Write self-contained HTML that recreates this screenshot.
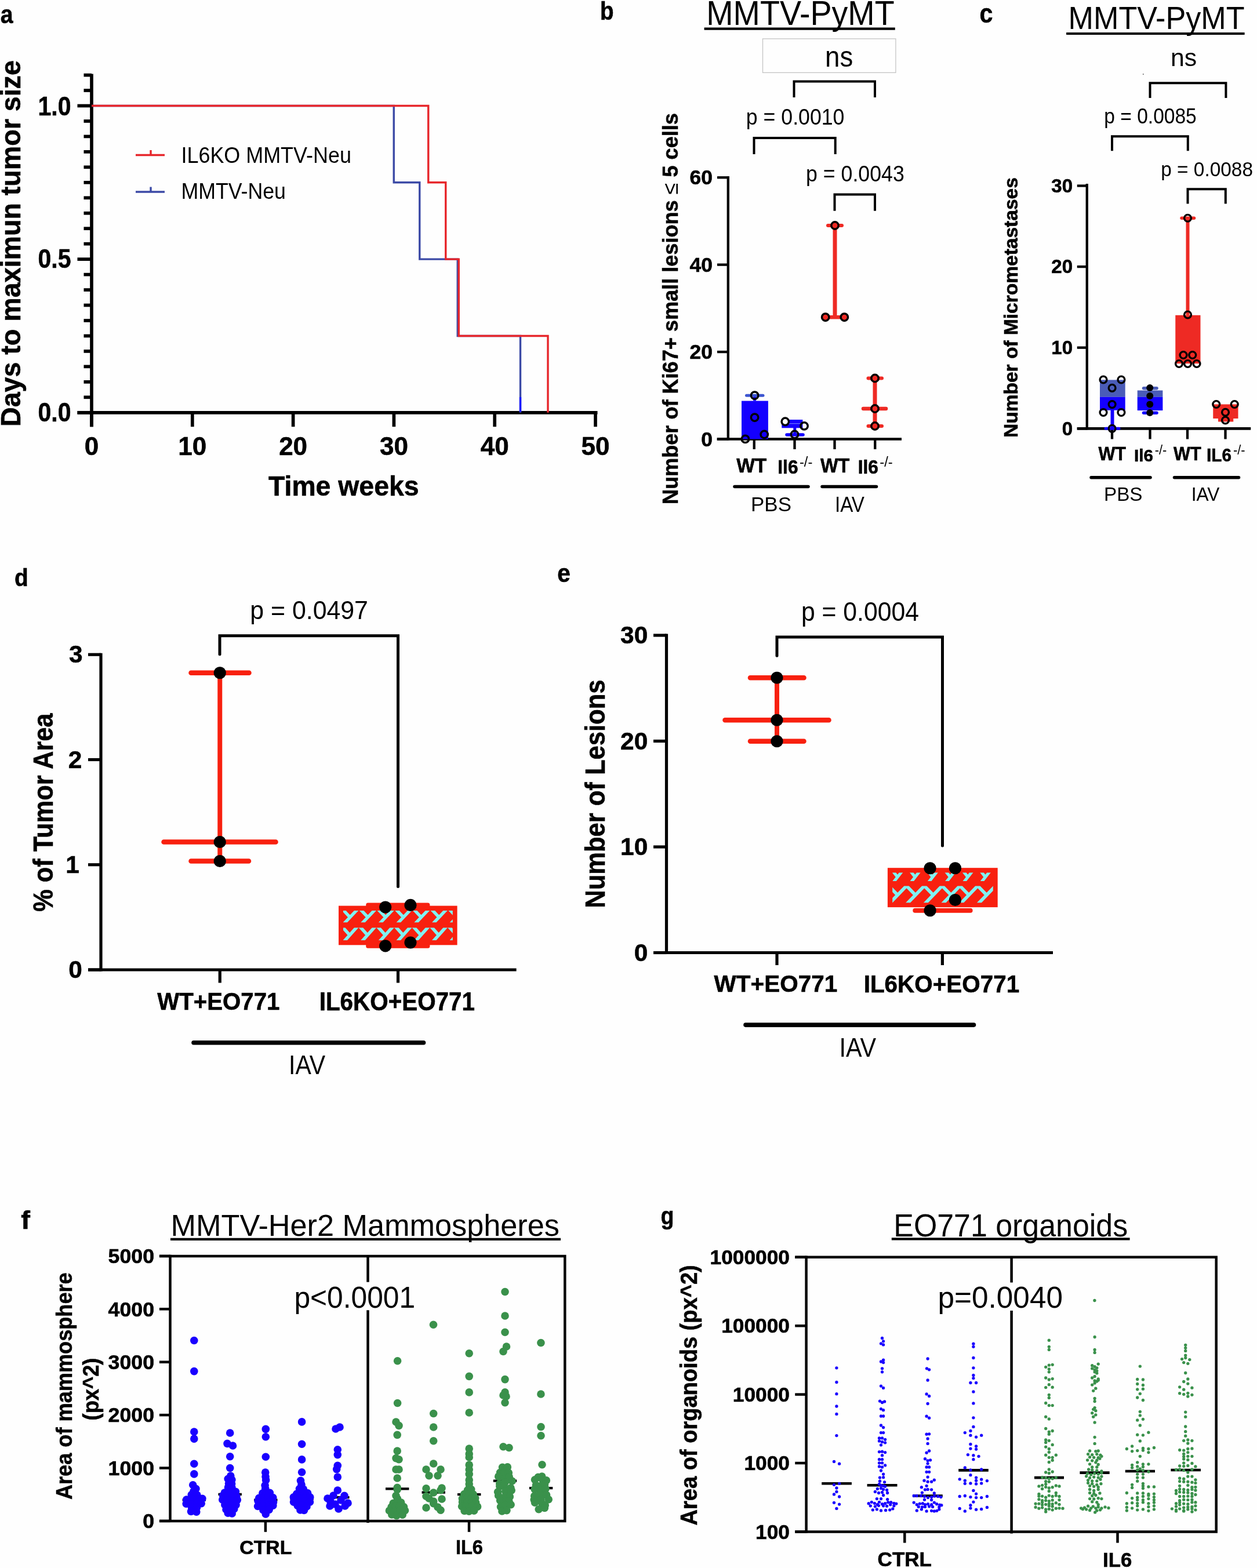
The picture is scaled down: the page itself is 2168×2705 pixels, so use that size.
<!DOCTYPE html>
<html><head><meta charset="utf-8"><style>
html,body{margin:0;padding:0;background:#fff;}
svg{display:block;}
text{font-family:"Liberation Sans",Arial,sans-serif;}
</style></head><body>
<svg width="2168" height="2705" viewBox="0 0 2168 2705">
<rect x="0" y="0" width="2168" height="2705" fill="#fefefe"/>
<text transform="translate(0.80,40.00) scale(0.8723,1)" font-size="45.00" font-weight="700" fill="#000" stroke="#000" stroke-width="0.6">a</text>
<line x1="158.00" y1="127.50" x2="158.00" y2="736.20" stroke="#000" stroke-width="5.7" stroke-linecap="butt"/>
<line x1="133.50" y1="711.80" x2="1030.50" y2="711.80" stroke="#000" stroke-width="5.7" stroke-linecap="butt"/>
<line x1="133.50" y1="711.80" x2="158.00" y2="711.80" stroke="#000" stroke-width="5.7" stroke-linecap="butt"/>
<line x1="144.50" y1="685.33" x2="158.00" y2="685.33" stroke="#000" stroke-width="5.7" stroke-linecap="butt"/>
<line x1="144.50" y1="658.87" x2="158.00" y2="658.87" stroke="#000" stroke-width="5.7" stroke-linecap="butt"/>
<line x1="144.50" y1="632.40" x2="158.00" y2="632.40" stroke="#000" stroke-width="5.7" stroke-linecap="butt"/>
<line x1="144.50" y1="605.94" x2="158.00" y2="605.94" stroke="#000" stroke-width="5.7" stroke-linecap="butt"/>
<line x1="144.50" y1="579.47" x2="158.00" y2="579.47" stroke="#000" stroke-width="5.7" stroke-linecap="butt"/>
<line x1="144.50" y1="553.01" x2="158.00" y2="553.01" stroke="#000" stroke-width="5.7" stroke-linecap="butt"/>
<line x1="144.50" y1="526.54" x2="158.00" y2="526.54" stroke="#000" stroke-width="5.7" stroke-linecap="butt"/>
<line x1="144.50" y1="500.08" x2="158.00" y2="500.08" stroke="#000" stroke-width="5.7" stroke-linecap="butt"/>
<line x1="144.50" y1="473.62" x2="158.00" y2="473.62" stroke="#000" stroke-width="5.7" stroke-linecap="butt"/>
<line x1="133.50" y1="447.15" x2="158.00" y2="447.15" stroke="#000" stroke-width="5.7" stroke-linecap="butt"/>
<line x1="144.50" y1="420.68" x2="158.00" y2="420.68" stroke="#000" stroke-width="5.7" stroke-linecap="butt"/>
<line x1="144.50" y1="394.22" x2="158.00" y2="394.22" stroke="#000" stroke-width="5.7" stroke-linecap="butt"/>
<line x1="144.50" y1="367.75" x2="158.00" y2="367.75" stroke="#000" stroke-width="5.7" stroke-linecap="butt"/>
<line x1="144.50" y1="341.29" x2="158.00" y2="341.29" stroke="#000" stroke-width="5.7" stroke-linecap="butt"/>
<line x1="144.50" y1="314.82" x2="158.00" y2="314.82" stroke="#000" stroke-width="5.7" stroke-linecap="butt"/>
<line x1="144.50" y1="288.36" x2="158.00" y2="288.36" stroke="#000" stroke-width="5.7" stroke-linecap="butt"/>
<line x1="144.50" y1="261.89" x2="158.00" y2="261.89" stroke="#000" stroke-width="5.7" stroke-linecap="butt"/>
<line x1="144.50" y1="235.43" x2="158.00" y2="235.43" stroke="#000" stroke-width="5.7" stroke-linecap="butt"/>
<line x1="144.50" y1="208.96" x2="158.00" y2="208.96" stroke="#000" stroke-width="5.7" stroke-linecap="butt"/>
<line x1="133.50" y1="182.50" x2="158.00" y2="182.50" stroke="#000" stroke-width="5.7" stroke-linecap="butt"/>
<line x1="144.50" y1="156.03" x2="158.00" y2="156.03" stroke="#000" stroke-width="5.7" stroke-linecap="butt"/>
<line x1="144.50" y1="129.57" x2="158.00" y2="129.57" stroke="#000" stroke-width="5.7" stroke-linecap="butt"/>
<line x1="158.00" y1="711.80" x2="158.00" y2="736.20" stroke="#000" stroke-width="5.7" stroke-linecap="butt"/>
<line x1="331.80" y1="711.80" x2="331.80" y2="736.20" stroke="#000" stroke-width="5.7" stroke-linecap="butt"/>
<line x1="505.60" y1="711.80" x2="505.60" y2="736.20" stroke="#000" stroke-width="5.7" stroke-linecap="butt"/>
<line x1="679.40" y1="711.80" x2="679.40" y2="736.20" stroke="#000" stroke-width="5.7" stroke-linecap="butt"/>
<line x1="853.20" y1="711.80" x2="853.20" y2="736.20" stroke="#000" stroke-width="5.7" stroke-linecap="butt"/>
<line x1="1027.00" y1="711.80" x2="1027.00" y2="736.20" stroke="#000" stroke-width="5.7" stroke-linecap="butt"/>
<text transform="translate(65.50,198.80) scale(0.8915,1)" font-size="46.00" font-weight="700" fill="#000" stroke="#000" stroke-width="0.6">1.0</text>
<text transform="translate(65.50,462.30) scale(0.8915,1)" font-size="46.00" font-weight="700" fill="#000" stroke="#000" stroke-width="0.6">0.5</text>
<text transform="translate(65.50,727.30) scale(0.8915,1)" font-size="46.00" font-weight="700" fill="#000" stroke="#000" stroke-width="0.6">0.0</text>
<text transform="translate(145.77,785.00) scale(1.0000,1)" font-size="44.00" font-weight="700" fill="#000" stroke="#000" stroke-width="0.6">0</text>
<text transform="translate(307.34,785.00) scale(1.0000,1)" font-size="44.00" font-weight="700" fill="#000" stroke="#000" stroke-width="0.6">10</text>
<text transform="translate(481.14,785.00) scale(1.0000,1)" font-size="44.00" font-weight="700" fill="#000" stroke="#000" stroke-width="0.6">20</text>
<text transform="translate(654.94,785.00) scale(1.0000,1)" font-size="44.00" font-weight="700" fill="#000" stroke="#000" stroke-width="0.6">30</text>
<text transform="translate(828.74,785.00) scale(1.0000,1)" font-size="44.00" font-weight="700" fill="#000" stroke="#000" stroke-width="0.6">40</text>
<text transform="translate(1002.54,785.00) scale(1.0000,1)" font-size="44.00" font-weight="700" fill="#000" stroke="#000" stroke-width="0.6">50</text>
<text transform="translate(463.00,855.00) scale(0.9766,1)" font-size="47.50" font-weight="700" fill="#000" stroke="#000" stroke-width="0.6">Time weeks</text>
<text transform="translate(35.10,736.00) rotate(-90) scale(0.9711,1)" font-size="48.00" font-weight="700" fill="#000" stroke="#000" stroke-width="0.6">Days to maximun tumor size</text>
<line x1="234.00" y1="267.50" x2="284.00" y2="267.50" stroke="#e7262b" stroke-width="3.4" stroke-linecap="butt"/>
<line x1="260.00" y1="259.00" x2="260.00" y2="267.50" stroke="#e7262b" stroke-width="3.4" stroke-linecap="butt"/>
<line x1="234.00" y1="331.00" x2="284.00" y2="331.00" stroke="#3c4aa6" stroke-width="3.4" stroke-linecap="butt"/>
<line x1="260.00" y1="322.50" x2="260.00" y2="331.00" stroke="#3c4aa6" stroke-width="3.4" stroke-linecap="butt"/>
<text transform="translate(312.50,280.50) scale(0.9332,1)" font-size="38.50" font-weight="400" fill="#000">IL6KO MMTV-Neu</text>
<text transform="translate(312.50,342.50) scale(0.9273,1)" font-size="38.50" font-weight="400" fill="#000">MMTV-Neu</text>
<polyline points="158.00,182.50 679.25,182.50 679.25,314.82 723.75,314.82 723.75,447.15 789.25,447.15 789.25,579.47 897.50,579.47 897.50,711.80" fill="none" stroke="#3c4aa6" stroke-width="3.4" stroke-linecap="butt" stroke-linejoin="miter"/>
<line x1="897.50" y1="685.00" x2="897.50" y2="710.80" stroke="#1a1aff" stroke-width="3.4" stroke-linecap="butt"/>
<polyline points="158.00,182.50 738.75,182.50 738.75,314.82 768.75,314.82 768.75,447.15 791.25,447.15 791.25,579.47 945.00,579.47 945.00,711.80" fill="none" stroke="#e7262b" stroke-width="3.4" stroke-linecap="butt" stroke-linejoin="miter"/>
<text transform="translate(1034.90,34.26) scale(0.8708,1)" font-size="44.35" font-weight="700" fill="#000" stroke="#000" stroke-width="0.6">b</text>
<text transform="translate(1218.30,42.70) scale(0.9332,1)" font-size="59.59" font-weight="400" fill="#000">MMTV-PyMT</text>
<line x1="1214.60" y1="49.60" x2="1543.75" y2="49.60" stroke="#000" stroke-width="4.2" stroke-linecap="butt"/>
<rect x="1315.50" y="66.90" width="229.40" height="58.40" fill="none" stroke="#c4c4c4" stroke-width="1.3"/>
<text transform="translate(1423.10,115.11) scale(0.9298,1)" font-size="49.09" font-weight="400" fill="#000">ns</text>
<polyline points="1369.50,168.00 1369.50,140.60 1509.00,140.60 1509.00,168.00" fill="none" stroke="#000" stroke-width="4" stroke-linecap="butt" stroke-linejoin="miter"/>
<text transform="translate(1286.80,214.80) scale(0.8994,1)" font-size="39.69" font-weight="400" fill="#000">p = 0.0010</text>
<polyline points="1300.50,266.00 1300.50,238.00 1440.70,238.00 1440.70,266.00" fill="none" stroke="#000" stroke-width="4" stroke-linecap="butt" stroke-linejoin="miter"/>
<text transform="translate(1390.10,312.91) scale(0.9058,1)" font-size="39.41" font-weight="400" fill="#000">p = 0.0043</text>
<polyline points="1439.50,363.70 1439.50,335.60 1509.00,335.60 1509.00,363.70" fill="none" stroke="#000" stroke-width="4" stroke-linecap="butt" stroke-linejoin="miter"/>
<line x1="1255.80" y1="304.00" x2="1255.80" y2="759.50" stroke="#000" stroke-width="4.3" stroke-linecap="butt"/>
<line x1="1236.60" y1="757.50" x2="1555.00" y2="757.50" stroke="#000" stroke-width="4.7" stroke-linecap="butt"/>
<line x1="1237.00" y1="757.50" x2="1255.80" y2="757.50" stroke="#000" stroke-width="4.3" stroke-linecap="butt"/>
<line x1="1237.00" y1="607.08" x2="1255.80" y2="607.08" stroke="#000" stroke-width="4.3" stroke-linecap="butt"/>
<line x1="1237.00" y1="456.66" x2="1255.80" y2="456.66" stroke="#000" stroke-width="4.3" stroke-linecap="butt"/>
<line x1="1237.00" y1="306.24" x2="1255.80" y2="306.24" stroke="#000" stroke-width="4.3" stroke-linecap="butt"/>
<text transform="translate(1189.48,318.39) scale(1.0000,1)" font-size="35.45" font-weight="700" fill="#000" stroke="#000" stroke-width="0.6">60</text>
<text transform="translate(1189.48,468.81) scale(1.0000,1)" font-size="35.45" font-weight="700" fill="#000" stroke="#000" stroke-width="0.6">40</text>
<text transform="translate(1189.48,619.23) scale(1.0000,1)" font-size="35.45" font-weight="700" fill="#000" stroke="#000" stroke-width="0.6">20</text>
<text transform="translate(1209.19,769.65) scale(1.0000,1)" font-size="35.45" font-weight="700" fill="#000" stroke="#000" stroke-width="0.6">0</text>
<line x1="1300.75" y1="757.50" x2="1300.75" y2="775.00" stroke="#000" stroke-width="4.3" stroke-linecap="butt"/>
<line x1="1370.50" y1="757.50" x2="1370.50" y2="775.00" stroke="#000" stroke-width="4.3" stroke-linecap="butt"/>
<line x1="1439.50" y1="757.50" x2="1439.50" y2="775.00" stroke="#000" stroke-width="4.3" stroke-linecap="butt"/>
<line x1="1509.25" y1="757.50" x2="1509.25" y2="775.00" stroke="#000" stroke-width="4.3" stroke-linecap="butt"/>
<rect x="1279.00" y="691.60" width="45.90" height="65.90" fill="#1400ff"/>
<line x1="1301.60" y1="691.60" x2="1301.60" y2="682.20" stroke="#1400ff" stroke-width="5" stroke-linecap="butt"/>
<line x1="1287.50" y1="682.20" x2="1316.00" y2="682.20" stroke="#3d55d0" stroke-width="5" stroke-linecap="round"/>
<circle cx="1301.60" cy="682.20" r="6.2" fill="none" stroke="#000" stroke-width="3.5"/>
<circle cx="1301.60" cy="720.20" r="6.2" fill="none" stroke="#000" stroke-width="3.5"/>
<circle cx="1318.20" cy="749.50" r="6.2" fill="none" stroke="#000" stroke-width="3.5"/>
<circle cx="1285.40" cy="757.40" r="6.2" fill="none" stroke="#000" stroke-width="3.5"/>
<rect x="1348.30" y="724.00" width="36.10" height="14.30" fill="#1400ff"/>
<line x1="1370.80" y1="738.00" x2="1370.80" y2="750.00" stroke="#1400ff" stroke-width="5" stroke-linecap="butt"/>
<line x1="1357.00" y1="749.90" x2="1385.00" y2="749.90" stroke="#1400ff" stroke-width="5.5" stroke-linecap="round"/>
<line x1="1352.00" y1="730.70" x2="1384.00" y2="730.70" stroke="#6f7cff" stroke-width="1.2" stroke-linecap="butt"/>
<circle cx="1354.30" cy="727.30" r="6.2" fill="#fff" stroke="#000" stroke-width="3.5"/>
<circle cx="1387.00" cy="734.90" r="6.2" fill="none" stroke="#000" stroke-width="3.5"/>
<circle cx="1370.50" cy="749.50" r="6.2" fill="none" stroke="#000" stroke-width="3.5"/>
<line x1="1440.00" y1="389.00" x2="1440.00" y2="547.20" stroke="#ee2a24" stroke-width="7" stroke-linecap="butt"/>
<line x1="1428.00" y1="389.00" x2="1452.00" y2="389.00" stroke="#ee2a24" stroke-width="6" stroke-linecap="round"/>
<line x1="1424.00" y1="547.20" x2="1456.00" y2="547.20" stroke="#ee2a24" stroke-width="6.5" stroke-linecap="butt"/>
<circle cx="1440.00" cy="389.00" r="6.2" fill="#ee2a24" stroke="#000" stroke-width="3.5"/>
<circle cx="1423.70" cy="547.20" r="6.2" fill="#ee2a24" stroke="#000" stroke-width="3.5"/>
<circle cx="1456.30" cy="547.20" r="6.2" fill="#ee2a24" stroke="#000" stroke-width="3.5"/>
<line x1="1509.00" y1="652.50" x2="1509.00" y2="735.00" stroke="#ee2a24" stroke-width="7" stroke-linecap="butt"/>
<line x1="1497.50" y1="652.50" x2="1521.00" y2="652.50" stroke="#ee2a24" stroke-width="6" stroke-linecap="round"/>
<line x1="1489.00" y1="705.00" x2="1528.00" y2="705.00" stroke="#ee2a24" stroke-width="6.5" stroke-linecap="round"/>
<line x1="1497.50" y1="735.00" x2="1521.00" y2="735.00" stroke="#ee2a24" stroke-width="6" stroke-linecap="round"/>
<circle cx="1509.00" cy="652.50" r="6.2" fill="#ee2a24" stroke="#000" stroke-width="3.5"/>
<circle cx="1509.00" cy="705.00" r="6.2" fill="#ee2a24" stroke="#000" stroke-width="3.5"/>
<circle cx="1509.00" cy="735.00" r="6.2" fill="#ee2a24" stroke="#000" stroke-width="3.5"/>
<text transform="translate(1270.20,814.60) scale(0.9583,1)" font-size="35.03" font-weight="700" fill="#000" stroke="#000" stroke-width="0.6">WT</text>
<text transform="translate(1341.30,817.30) scale(0.9794,1)" font-size="32.41" font-weight="700" fill="#000" stroke="#000" stroke-width="0.6">Il6</text>
<text transform="translate(1378.90,804.56) scale(0.9733,1)" font-size="24.49" font-weight="400" fill="#000">-/-</text>
<text transform="translate(1415.00,814.60) scale(0.9253,1)" font-size="35.03" font-weight="700" fill="#000" stroke="#000" stroke-width="0.6">WT</text>
<text transform="translate(1479.70,817.30) scale(0.9794,1)" font-size="32.41" font-weight="700" fill="#000" stroke="#000" stroke-width="0.6">Il6</text>
<text transform="translate(1517.30,804.56) scale(0.9733,1)" font-size="24.49" font-weight="400" fill="#000">-/-</text>
<line x1="1267.00" y1="839.50" x2="1394.00" y2="839.50" stroke="#000" stroke-width="5.5" stroke-linecap="round"/>
<line x1="1418.00" y1="839.50" x2="1511.50" y2="839.50" stroke="#000" stroke-width="5.5" stroke-linecap="round"/>
<text transform="translate(1295.00,882.15) scale(0.9907,1)" font-size="35.31" font-weight="400" fill="#000">PBS</text>
<text transform="translate(1440.00,882.50) scale(0.9126,1)" font-size="36.34" font-weight="400" fill="#000">IAV</text>
<text transform="translate(1169.00,870.00) rotate(-90) scale(0.9758,1)" font-size="37.00" font-weight="700" fill="#000" stroke="#000" stroke-width="0.6">Number of Ki67+ small lesions <tspan font-weight="400" stroke-width="0">≤</tspan> 5 cells</text>
<text transform="translate(1689.40,39.24) scale(0.9028,1)" font-size="45.62" font-weight="700" fill="#000" stroke="#000" stroke-width="0.6">c</text>
<text transform="translate(1842.60,50.30) scale(0.9486,1)" font-size="54.94" font-weight="400" fill="#000">MMTV-PyMT</text>
<line x1="1839.10" y1="58.00" x2="2146.60" y2="58.00" stroke="#000" stroke-width="4" stroke-linecap="butt"/>
<text transform="translate(2019.00,114.27) scale(0.9897,1)" font-size="43.25" font-weight="400" fill="#000">ns</text>
<circle cx="1971.80" cy="128.00" r="0.9" fill="#555"/>
<polyline points="1983.50,169.00 1983.50,143.20 2114.40,143.20 2114.40,169.00" fill="none" stroke="#000" stroke-width="4" stroke-linecap="butt" stroke-linejoin="miter"/>
<text transform="translate(1904.30,213.14) scale(0.9315,1)" font-size="36.02" font-weight="400" fill="#000">p = 0.0085</text>
<polyline points="1918.00,260.30 1918.00,235.30 2048.80,235.30 2048.80,260.30" fill="none" stroke="#000" stroke-width="4" stroke-linecap="butt" stroke-linejoin="miter"/>
<text transform="translate(2002.20,303.75) scale(0.9536,1)" font-size="35.03" font-weight="400" fill="#000">p = 0.0088</text>
<polyline points="2048.50,351.50 2048.50,326.30 2113.80,326.30 2113.80,351.50" fill="none" stroke="#000" stroke-width="4" stroke-linecap="butt" stroke-linejoin="miter"/>
<line x1="1874.75" y1="317.00" x2="1874.75" y2="741.30" stroke="#000" stroke-width="4.3" stroke-linecap="butt"/>
<line x1="1857.75" y1="739.30" x2="2157.25" y2="739.30" stroke="#000" stroke-width="4.7" stroke-linecap="butt"/>
<line x1="1857.75" y1="739.30" x2="1874.75" y2="739.30" stroke="#000" stroke-width="4.3" stroke-linecap="butt"/>
<line x1="1857.75" y1="599.70" x2="1874.75" y2="599.70" stroke="#000" stroke-width="4.3" stroke-linecap="butt"/>
<line x1="1857.75" y1="460.10" x2="1874.75" y2="460.10" stroke="#000" stroke-width="4.3" stroke-linecap="butt"/>
<line x1="1857.75" y1="320.50" x2="1874.75" y2="320.50" stroke="#000" stroke-width="4.3" stroke-linecap="butt"/>
<text transform="translate(1813.35,331.87) scale(1.0000,1)" font-size="33.05" font-weight="700" fill="#000" stroke="#000" stroke-width="0.6">30</text>
<text transform="translate(1813.35,471.47) scale(1.0000,1)" font-size="33.05" font-weight="700" fill="#000" stroke="#000" stroke-width="0.6">20</text>
<text transform="translate(1813.35,611.07) scale(1.0000,1)" font-size="33.05" font-weight="700" fill="#000" stroke="#000" stroke-width="0.6">10</text>
<text transform="translate(1831.72,750.67) scale(1.0000,1)" font-size="33.05" font-weight="700" fill="#000" stroke="#000" stroke-width="0.6">0</text>
<line x1="1918.00" y1="739.30" x2="1918.00" y2="757.50" stroke="#000" stroke-width="4.3" stroke-linecap="butt"/>
<line x1="1983.50" y1="739.30" x2="1983.50" y2="757.50" stroke="#000" stroke-width="4.3" stroke-linecap="butt"/>
<line x1="2048.00" y1="739.30" x2="2048.00" y2="757.50" stroke="#000" stroke-width="4.3" stroke-linecap="butt"/>
<line x1="2113.50" y1="739.30" x2="2113.50" y2="757.50" stroke="#000" stroke-width="4.3" stroke-linecap="butt"/>
<rect x="1897.00" y="655.40" width="43.70" height="29.40" fill="#4a5cb8"/>
<rect x="1897.00" y="684.80" width="43.70" height="22.90" fill="#1400ff"/>
<line x1="1918.50" y1="707.00" x2="1918.50" y2="739.30" stroke="#1400ff" stroke-width="6" stroke-linecap="butt"/>
<line x1="1907.00" y1="739.30" x2="1930.00" y2="739.30" stroke="#1400ff" stroke-width="5" stroke-linecap="round"/>
<circle cx="1903.00" cy="655.00" r="5.9" fill="none" stroke="#000" stroke-width="3.4"/>
<circle cx="1933.90" cy="655.00" r="5.9" fill="none" stroke="#000" stroke-width="3.4"/>
<circle cx="1918.10" cy="669.30" r="5.9" fill="none" stroke="#000" stroke-width="3.4"/>
<circle cx="1918.10" cy="697.60" r="5.9" fill="none" stroke="#000" stroke-width="3.4"/>
<circle cx="1903.00" cy="711.50" r="5.9" fill="none" stroke="#000" stroke-width="3.4"/>
<circle cx="1933.90" cy="711.50" r="5.9" fill="none" stroke="#000" stroke-width="3.4"/>
<circle cx="1918.10" cy="739.30" r="5.9" fill="none" stroke="#000" stroke-width="3.4"/>
<line x1="1972.50" y1="669.70" x2="1995.00" y2="669.70" stroke="#4a5cb8" stroke-width="5.5" stroke-linecap="round"/>
<rect x="1961.70" y="673.50" width="43.70" height="11.30" fill="#4a5cb8"/>
<rect x="1961.70" y="684.80" width="43.70" height="23.30" fill="#1400ff"/>
<line x1="1972.50" y1="712.20" x2="1995.00" y2="712.20" stroke="#1400ff" stroke-width="5.5" stroke-linecap="round"/>
<circle cx="1983.20" cy="669.00" r="6" fill="#000"/>
<circle cx="1983.20" cy="682.90" r="6" fill="#000"/>
<circle cx="1983.20" cy="697.60" r="6" fill="#000"/>
<circle cx="1983.20" cy="711.90" r="6" fill="#000"/>
<line x1="2048.50" y1="376.25" x2="2048.50" y2="543.75" stroke="#ee2a24" stroke-width="6" stroke-linecap="butt"/>
<line x1="2038.00" y1="376.25" x2="2059.50" y2="376.25" stroke="#ee2a24" stroke-width="5.5" stroke-linecap="round"/>
<rect x="2027.25" y="543.75" width="43.25" height="83.45" fill="#ee2a24"/>
<circle cx="2048.50" cy="376.25" r="5.9" fill="none" stroke="#000" stroke-width="3.4"/>
<circle cx="2048.50" cy="543.00" r="5.9" fill="none" stroke="#000" stroke-width="3.4"/>
<circle cx="2041.00" cy="612.50" r="5.9" fill="none" stroke="#000" stroke-width="3.4"/>
<circle cx="2056.75" cy="612.50" r="5.9" fill="none" stroke="#000" stroke-width="3.4"/>
<circle cx="2033.50" cy="627.50" r="5.9" fill="none" stroke="#000" stroke-width="3.4"/>
<circle cx="2048.50" cy="627.50" r="5.9" fill="none" stroke="#000" stroke-width="3.4"/>
<circle cx="2064.00" cy="627.50" r="5.9" fill="none" stroke="#000" stroke-width="3.4"/>
<rect x="2092.25" y="697.50" width="43.25" height="24.50" fill="#ee2a24"/>
<rect x="2101.00" y="715.00" width="26.25" height="12.50" fill="#ee2a24"/>
<circle cx="2097.75" cy="697.50" r="5.9" fill="none" stroke="#000" stroke-width="3.4"/>
<circle cx="2129.25" cy="697.50" r="5.9" fill="none" stroke="#000" stroke-width="3.4"/>
<circle cx="2113.50" cy="711.25" r="5.9" fill="none" stroke="#000" stroke-width="3.4"/>
<circle cx="2113.50" cy="725.00" r="5.9" fill="none" stroke="#000" stroke-width="3.4"/>
<text transform="translate(1894.40,793.60) scale(0.9278,1)" font-size="32.99" font-weight="700" fill="#000" stroke="#000" stroke-width="0.6">WT</text>
<text transform="translate(1956.10,795.90) scale(0.9765,1)" font-size="30.21" font-weight="700" fill="#000" stroke="#000" stroke-width="0.6">Il6</text>
<text transform="translate(1991.70,784.27) scale(0.9325,1)" font-size="23.40" font-weight="400" fill="#000">-/-</text>
<text transform="translate(2024.00,793.60) scale(0.9297,1)" font-size="32.99" font-weight="700" fill="#000" stroke="#000" stroke-width="0.6">WT</text>
<text transform="translate(2081.10,795.90) scale(0.9327,1)" font-size="31.83" font-weight="700" fill="#000" stroke="#000" stroke-width="0.6">IL6</text>
<text transform="translate(2126.90,784.27) scale(0.9325,1)" font-size="23.40" font-weight="400" fill="#000">-/-</text>
<line x1="1882.00" y1="823.75" x2="1984.00" y2="823.75" stroke="#000" stroke-width="5.5" stroke-linecap="round"/>
<line x1="2025.50" y1="823.75" x2="2136.50" y2="823.75" stroke="#000" stroke-width="5.5" stroke-linecap="round"/>
<text transform="translate(1904.00,863.93) scale(1.0230,1)" font-size="32.49" font-weight="400" fill="#000">PBS</text>
<text transform="translate(2054.75,864.25) scale(0.9482,1)" font-size="33.43" font-weight="400" fill="#000">IAV</text>
<text transform="translate(1754.50,755.00) rotate(-90) scale(1.0159,1)" font-size="33.00" font-weight="700" fill="#000" stroke="#000" stroke-width="0.6">Number of Micrometastases</text>
<text transform="translate(25.00,1010.82) scale(0.9142,1)" font-size="42.52" font-weight="700" fill="#000" stroke="#000" stroke-width="0.6">d</text>
<line x1="174.00" y1="1129.25" x2="174.00" y2="1673.00" stroke="#000" stroke-width="5.2" stroke-linecap="square"/>
<line x1="152.00" y1="1673.00" x2="890.60" y2="1673.00" stroke="#000" stroke-width="5.2" stroke-linecap="butt"/>
<line x1="152.00" y1="1673.00" x2="174.00" y2="1673.00" stroke="#000" stroke-width="5.2" stroke-linecap="butt"/>
<line x1="152.00" y1="1491.75" x2="174.00" y2="1491.75" stroke="#000" stroke-width="5.2" stroke-linecap="butt"/>
<line x1="152.00" y1="1310.50" x2="174.00" y2="1310.50" stroke="#000" stroke-width="5.2" stroke-linecap="butt"/>
<line x1="152.00" y1="1129.25" x2="174.00" y2="1129.25" stroke="#000" stroke-width="5.2" stroke-linecap="butt"/>
<text transform="translate(118.94,1143.33) scale(1.0000,1)" font-size="42.37" font-weight="700" fill="#000" stroke="#000" stroke-width="0.6">3</text>
<text transform="translate(117.64,1324.58) scale(1.0000,1)" font-size="42.37" font-weight="700" fill="#000" stroke="#000" stroke-width="0.6">2</text>
<text transform="translate(113.34,1505.83) scale(1.0000,1)" font-size="42.37" font-weight="700" fill="#000" stroke="#000" stroke-width="0.6">1</text>
<text transform="translate(118.24,1687.08) scale(1.0000,1)" font-size="42.37" font-weight="700" fill="#000" stroke="#000" stroke-width="0.6">0</text>
<line x1="379.25" y1="1673.00" x2="379.25" y2="1695.50" stroke="#000" stroke-width="5.2" stroke-linecap="butt"/>
<line x1="686.50" y1="1673.00" x2="686.50" y2="1695.50" stroke="#000" stroke-width="5.2" stroke-linecap="butt"/>
<polyline points="379.00,1128.75 379.00,1096.75 686.50,1096.75 686.50,1529.50" fill="none" stroke="#000" stroke-width="5" stroke-linecap="round" stroke-linejoin="miter"/>
<text transform="translate(431.25,1067.55) scale(0.9557,1)" font-size="44.84" font-weight="400" fill="#000">p = 0.0497</text>
<line x1="379.25" y1="1160.75" x2="379.25" y2="1485.50" stroke="#f8200f" stroke-width="8" stroke-linecap="butt"/>
<line x1="329.50" y1="1160.75" x2="429.50" y2="1160.75" stroke="#f8200f" stroke-width="8.5" stroke-linecap="round"/>
<line x1="282.50" y1="1452.50" x2="475.50" y2="1452.50" stroke="#f8200f" stroke-width="8.5" stroke-linecap="round"/>
<line x1="329.50" y1="1485.50" x2="429.00" y2="1485.50" stroke="#f8200f" stroke-width="8.5" stroke-linecap="round"/>
<circle cx="379.25" cy="1160.75" r="10.6" fill="#000"/>
<circle cx="379.25" cy="1452.50" r="10.6" fill="#000"/>
<circle cx="379.25" cy="1485.50" r="10.6" fill="#000"/>
<rect x="584.00" y="1562.60" width="204.60" height="67.70" fill="#f8200f"/>
<rect x="631.2" y="1557.5" width="110.2" height="78.3" rx="3.5" fill="#f8200f"/>
<clipPath id="hc1"><rect x="591.90" y="1570.70" width="188.90" height="20.90"/></clipPath>
<path clip-path="url(#hc1)" fill="#80f2f2" d="M591.30,1591.60L598.80,1591.60L618.50,1570.70L611.00,1570.70ZM600.28,1582.67L607.78,1582.67L596.50,1570.70L589.00,1570.70ZM622.00,1591.60L629.50,1591.60L649.20,1570.70L641.70,1570.70ZM630.98,1582.67L638.48,1582.67L627.20,1570.70L619.70,1570.70ZM652.70,1591.60L660.20,1591.60L679.90,1570.70L672.40,1570.70ZM661.68,1582.67L669.18,1582.67L657.90,1570.70L650.40,1570.70ZM683.40,1591.60L690.90,1591.60L710.60,1570.70L703.10,1570.70ZM692.38,1582.67L699.88,1582.67L688.60,1570.70L681.10,1570.70ZM714.10,1591.60L721.60,1591.60L741.30,1570.70L733.80,1570.70ZM723.08,1582.67L730.58,1582.67L719.30,1570.70L711.80,1570.70ZM744.80,1591.60L752.30,1591.60L772.00,1570.70L764.50,1570.70ZM753.78,1582.67L761.28,1582.67L750.00,1570.70L742.50,1570.70ZM775.50,1591.60L783.00,1591.60L802.70,1570.70L795.20,1570.70ZM784.48,1582.67L791.98,1582.67L780.70,1570.70L773.20,1570.70Z"/>
<clipPath id="hc2"><rect x="591.90" y="1600.30" width="188.90" height="21.90"/></clipPath>
<path clip-path="url(#hc2)" fill="#80f2f2" d="M591.30,1622.20L598.80,1622.20L618.50,1600.30L611.00,1600.30ZM599.69,1613.47L607.19,1613.47L595.35,1600.30L587.85,1600.30ZM622.00,1622.20L629.50,1622.20L649.20,1600.30L641.70,1600.30ZM630.39,1613.47L637.89,1613.47L626.05,1600.30L618.55,1600.30ZM652.70,1622.20L660.20,1622.20L679.90,1600.30L672.40,1600.30ZM661.09,1613.47L668.59,1613.47L656.75,1600.30L649.25,1600.30ZM683.40,1622.20L690.90,1622.20L710.60,1600.30L703.10,1600.30ZM691.79,1613.47L699.29,1613.47L687.45,1600.30L679.95,1600.30ZM714.10,1622.20L721.60,1622.20L741.30,1600.30L733.80,1600.30ZM722.49,1613.47L729.99,1613.47L718.15,1600.30L710.65,1600.30ZM744.80,1622.20L752.30,1622.20L772.00,1600.30L764.50,1600.30ZM753.19,1613.47L760.69,1613.47L748.85,1600.30L741.35,1600.30ZM775.50,1622.20L783.00,1622.20L802.70,1600.30L795.20,1600.30ZM783.89,1613.47L791.39,1613.47L779.55,1600.30L772.05,1600.30Z"/>
<circle cx="664.70" cy="1565.00" r="10.6" fill="#000"/>
<circle cx="708.00" cy="1561.40" r="10.6" fill="#000"/>
<circle cx="664.70" cy="1631.80" r="10.6" fill="#000"/>
<circle cx="708.00" cy="1626.00" r="10.6" fill="#000"/>
<text transform="translate(271.25,1742.00) scale(0.9381,1)" font-size="42.88" font-weight="700" fill="#000" stroke="#000" stroke-width="0.6">WT+EO771</text>
<text transform="translate(550.70,1742.80) scale(0.9202,1)" font-size="43.90" font-weight="700" fill="#000" stroke="#000" stroke-width="0.6">IL6KO+EO771</text>
<line x1="334.00" y1="1798.70" x2="730.50" y2="1798.70" stroke="#000" stroke-width="7.6" stroke-linecap="round"/>
<text transform="translate(498.00,1852.50) scale(0.8947,1)" font-size="45.78" font-weight="400" fill="#000">IAV</text>
<text transform="translate(90.70,1572.80) rotate(-90) scale(0.9128,1)" font-size="47.53" font-weight="700" fill="#000" stroke="#000" stroke-width="0.6">% of Tumor Area</text>
<text transform="translate(961.25,1004.05) scale(0.9052,1)" font-size="44.71" font-weight="700" fill="#000" stroke="#000" stroke-width="0.6">e</text>
<line x1="1149.50" y1="1096.00" x2="1149.50" y2="1643.50" stroke="#000" stroke-width="5.2" stroke-linecap="square"/>
<line x1="1127.50" y1="1643.50" x2="1816.00" y2="1643.50" stroke="#000" stroke-width="5.2" stroke-linecap="butt"/>
<line x1="1127.00" y1="1643.50" x2="1149.50" y2="1643.50" stroke="#000" stroke-width="5.2" stroke-linecap="butt"/>
<line x1="1127.00" y1="1461.00" x2="1149.50" y2="1461.00" stroke="#000" stroke-width="5.2" stroke-linecap="butt"/>
<line x1="1127.00" y1="1278.50" x2="1149.50" y2="1278.50" stroke="#000" stroke-width="5.2" stroke-linecap="butt"/>
<line x1="1127.00" y1="1096.00" x2="1149.50" y2="1096.00" stroke="#000" stroke-width="5.2" stroke-linecap="butt"/>
<text transform="translate(1070.08,1110.08) scale(1.0000,1)" font-size="42.37" font-weight="700" fill="#000" stroke="#000" stroke-width="0.6">30</text>
<text transform="translate(1070.08,1292.58) scale(1.0000,1)" font-size="42.37" font-weight="700" fill="#000" stroke="#000" stroke-width="0.6">20</text>
<text transform="translate(1070.08,1475.08) scale(1.0000,1)" font-size="42.37" font-weight="700" fill="#000" stroke="#000" stroke-width="0.6">10</text>
<text transform="translate(1093.64,1657.58) scale(1.0000,1)" font-size="42.37" font-weight="700" fill="#000" stroke="#000" stroke-width="0.6">0</text>
<line x1="1340.00" y1="1643.50" x2="1340.00" y2="1665.00" stroke="#000" stroke-width="5.2" stroke-linecap="butt"/>
<line x1="1625.40" y1="1643.50" x2="1625.40" y2="1665.00" stroke="#000" stroke-width="5.2" stroke-linecap="butt"/>
<polyline points="1340.00,1131.25 1340.00,1099.00 1625.50,1099.00 1625.50,1459.00" fill="none" stroke="#000" stroke-width="5" stroke-linecap="round" stroke-linejoin="miter"/>
<text transform="translate(1381.90,1070.78) scale(0.9097,1)" font-size="46.96" font-weight="400" fill="#000">p = 0.0004</text>
<line x1="1340.00" y1="1169.25" x2="1340.00" y2="1278.75" stroke="#f8200f" stroke-width="8" stroke-linecap="butt"/>
<line x1="1294.00" y1="1169.25" x2="1386.50" y2="1169.25" stroke="#f8200f" stroke-width="8.5" stroke-linecap="round"/>
<line x1="1250.50" y1="1242.25" x2="1429.50" y2="1242.25" stroke="#f8200f" stroke-width="8.5" stroke-linecap="round"/>
<line x1="1294.00" y1="1278.75" x2="1386.50" y2="1278.75" stroke="#f8200f" stroke-width="8.5" stroke-linecap="round"/>
<circle cx="1340.00" cy="1169.25" r="10.6" fill="#000"/>
<circle cx="1340.00" cy="1242.25" r="10.6" fill="#000"/>
<circle cx="1340.00" cy="1278.75" r="10.6" fill="#000"/>
<rect x="1530.90" y="1497.20" width="189.80" height="67.90" fill="#f8200f"/>
<line x1="1578.30" y1="1570.75" x2="1673.60" y2="1570.75" stroke="#f8200f" stroke-width="8" stroke-linecap="round"/>
<clipPath id="hc3"><rect x="1539.20" y="1505.20" width="173.60" height="14.90"/></clipPath>
<path clip-path="url(#hc3)" fill="#80f2f2" d="M1539.20,1520.10L1545.80,1520.10L1557.40,1505.20L1550.80,1505.20ZM1544.93,1513.34L1551.53,1513.34L1545.20,1505.20L1538.60,1505.20ZM1569.50,1520.10L1576.10,1520.10L1587.70,1505.20L1581.10,1505.20ZM1575.23,1513.34L1581.83,1513.34L1575.50,1505.20L1568.90,1505.20ZM1599.80,1520.10L1606.40,1520.10L1618.00,1505.20L1611.40,1505.20ZM1605.53,1513.34L1612.13,1513.34L1605.80,1505.20L1599.20,1505.20ZM1630.10,1520.10L1636.70,1520.10L1648.30,1505.20L1641.70,1505.20ZM1635.83,1513.34L1642.43,1513.34L1636.10,1505.20L1629.50,1505.20ZM1660.40,1520.10L1667.00,1520.10L1678.60,1505.20L1672.00,1505.20ZM1666.13,1513.34L1672.73,1513.34L1666.40,1505.20L1659.80,1505.20ZM1690.70,1520.10L1697.30,1520.10L1708.90,1505.20L1702.30,1505.20ZM1696.43,1513.34L1703.03,1513.34L1696.70,1505.20L1690.10,1505.20Z"/>
<clipPath id="hc4"><rect x="1539.20" y="1528.20" width="173.60" height="29.20"/></clipPath>
<path clip-path="url(#hc4)" fill="#80f2f2" d="M1531.20,1557.40L1539.20,1557.40L1567.50,1528.20L1559.50,1528.20ZM1544.44,1544.34L1552.44,1544.34L1536.80,1528.20L1528.80,1528.20ZM1561.90,1557.40L1569.90,1557.40L1598.20,1528.20L1590.20,1528.20ZM1575.14,1544.34L1583.14,1544.34L1567.50,1528.20L1559.50,1528.20ZM1592.60,1557.40L1600.60,1557.40L1628.90,1528.20L1620.90,1528.20ZM1605.84,1544.34L1613.84,1544.34L1598.20,1528.20L1590.20,1528.20ZM1623.30,1557.40L1631.30,1557.40L1659.60,1528.20L1651.60,1528.20ZM1636.54,1544.34L1644.54,1544.34L1628.90,1528.20L1620.90,1528.20ZM1654.00,1557.40L1662.00,1557.40L1690.30,1528.20L1682.30,1528.20ZM1667.24,1544.34L1675.24,1544.34L1659.60,1528.20L1651.60,1528.20ZM1684.70,1557.40L1692.70,1557.40L1721.00,1528.20L1713.00,1528.20ZM1697.94,1544.34L1705.94,1544.34L1690.30,1528.20L1682.30,1528.20ZM1715.40,1557.40L1723.40,1557.40L1751.70,1528.20L1743.70,1528.20ZM1728.64,1544.34L1736.64,1544.34L1721.00,1528.20L1713.00,1528.20Z"/>
<circle cx="1604.10" cy="1497.75" r="10.6" fill="#000"/>
<circle cx="1647.50" cy="1497.75" r="10.6" fill="#000"/>
<circle cx="1647.50" cy="1552.50" r="10.6" fill="#000"/>
<circle cx="1604.10" cy="1570.75" r="10.6" fill="#000"/>
<text transform="translate(1231.60,1711.40) scale(0.9811,1)" font-size="41.28" font-weight="700" fill="#000" stroke="#000" stroke-width="0.6">WT+EO771</text>
<text transform="translate(1489.70,1712.00) scale(0.9528,1)" font-size="42.44" font-weight="700" fill="#000" stroke="#000" stroke-width="0.6">IL6KO+EO771</text>
<line x1="1286.00" y1="1768.10" x2="1679.50" y2="1768.10" stroke="#000" stroke-width="7.6" stroke-linecap="round"/>
<text transform="translate(1447.60,1822.80) scale(0.9003,1)" font-size="45.93" font-weight="400" fill="#000">IAV</text>
<text transform="translate(1043.26,1566.80) rotate(-90) scale(0.8951,1)" font-size="48.64" font-weight="700" fill="#000" stroke="#000" stroke-width="0.6">Number of Lesions</text>
<text transform="translate(36.20,2120.00) scale(1.0686,1)" font-size="44.14" font-weight="700" fill="#000" stroke="#000" stroke-width="0.6">f</text>
<text transform="translate(294.60,2132.00) scale(0.9981,1)" font-size="52.33" font-weight="400" fill="#000">MMTV-Her2 Mammospheres</text>
<line x1="294.00" y1="2137.90" x2="967.00" y2="2137.90" stroke="#000" stroke-width="4.3" stroke-linecap="butt"/>
<path d="M274.9,2166.90H974.3V2623.90H274.9" fill="none" stroke="#000" stroke-width="4.5"/>
<line x1="293.50" y1="2164.70" x2="293.50" y2="2626.10" stroke="#000" stroke-width="4.5" stroke-linecap="butt"/>
<line x1="274.90" y1="2623.90" x2="293.50" y2="2623.90" stroke="#000" stroke-width="4.5" stroke-linecap="butt"/>
<line x1="274.90" y1="2532.50" x2="293.50" y2="2532.50" stroke="#000" stroke-width="4.5" stroke-linecap="butt"/>
<line x1="274.90" y1="2441.10" x2="293.50" y2="2441.10" stroke="#000" stroke-width="4.5" stroke-linecap="butt"/>
<line x1="274.90" y1="2349.70" x2="293.50" y2="2349.70" stroke="#000" stroke-width="4.5" stroke-linecap="butt"/>
<line x1="274.90" y1="2258.30" x2="293.50" y2="2258.30" stroke="#000" stroke-width="4.5" stroke-linecap="butt"/>
<line x1="274.90" y1="2166.90" x2="293.50" y2="2166.90" stroke="#000" stroke-width="4.5" stroke-linecap="butt"/>
<text transform="translate(246.23,2636.14) scale(1.0000,1)" font-size="35.73" font-weight="700" fill="#000" stroke="#000" stroke-width="0.6">0</text>
<text transform="translate(186.59,2544.74) scale(1.0000,1)" font-size="35.73" font-weight="700" fill="#000" stroke="#000" stroke-width="0.6">1000</text>
<text transform="translate(186.59,2453.34) scale(1.0000,1)" font-size="35.73" font-weight="700" fill="#000" stroke="#000" stroke-width="0.6">2000</text>
<text transform="translate(186.59,2361.94) scale(1.0000,1)" font-size="35.73" font-weight="700" fill="#000" stroke="#000" stroke-width="0.6">3000</text>
<text transform="translate(186.59,2270.54) scale(1.0000,1)" font-size="35.73" font-weight="700" fill="#000" stroke="#000" stroke-width="0.6">4000</text>
<text transform="translate(186.59,2179.14) scale(1.0000,1)" font-size="35.73" font-weight="700" fill="#000" stroke="#000" stroke-width="0.6">5000</text>
<line x1="634.50" y1="2166.90" x2="634.50" y2="2211.70" stroke="#000" stroke-width="4.5" stroke-linecap="butt"/>
<line x1="634.50" y1="2260.30" x2="634.50" y2="2626.90" stroke="#000" stroke-width="4.5" stroke-linecap="butt"/>
<line x1="457.90" y1="2623.90" x2="457.90" y2="2642.80" stroke="#000" stroke-width="4.5" stroke-linecap="butt"/>
<line x1="809.00" y1="2623.90" x2="809.00" y2="2642.80" stroke="#000" stroke-width="4.5" stroke-linecap="butt"/>
<text transform="translate(413.30,2681.07) scale(1.0128,1)" font-size="33.33" font-weight="700" fill="#000" stroke="#000" stroke-width="0.6">CTRL</text>
<text transform="translate(785.90,2681.40) scale(0.9502,1)" font-size="34.30" font-weight="700" fill="#000" stroke="#000" stroke-width="0.6">IL6</text>
<text transform="translate(507.40,2256.18) scale(0.9648,1)" font-size="51.55" font-weight="400" fill="#000">p&lt;0.0001</text>
<text transform="translate(123.80,2587.10) rotate(-90) scale(0.9318,1)" font-size="38.81" font-weight="700" fill="#000" stroke="#000" stroke-width="0.6">Area of mammosphere</text>
<text transform="translate(169.70,2450.40) rotate(-90) scale(0.9431,1)" font-size="38.45" font-weight="700" fill="#000" stroke="#000" stroke-width="0.6">(px^2)</text>
<line x1="314.60" y1="2587.70" x2="355.00" y2="2587.70" stroke="#000" stroke-width="4.2" stroke-linecap="butt"/>
<line x1="376.50" y1="2577.90" x2="416.90" y2="2577.90" stroke="#000" stroke-width="4.2" stroke-linecap="butt"/>
<line x1="438.10" y1="2587.70" x2="478.50" y2="2587.70" stroke="#000" stroke-width="4.2" stroke-linecap="butt"/>
<line x1="500.40" y1="2585.60" x2="540.80" y2="2585.60" stroke="#000" stroke-width="4.2" stroke-linecap="butt"/>
<line x1="562.10" y1="2583.10" x2="602.50" y2="2583.10" stroke="#000" stroke-width="4.2" stroke-linecap="butt"/>
<line x1="665.00" y1="2568.30" x2="705.40" y2="2568.30" stroke="#000" stroke-width="4.2" stroke-linecap="butt"/>
<line x1="727.50" y1="2574.60" x2="767.90" y2="2574.60" stroke="#000" stroke-width="4.2" stroke-linecap="butt"/>
<line x1="789.00" y1="2578.10" x2="829.40" y2="2578.10" stroke="#000" stroke-width="4.2" stroke-linecap="butt"/>
<line x1="850.80" y1="2554.60" x2="891.20" y2="2554.60" stroke="#000" stroke-width="4.2" stroke-linecap="butt"/>
<line x1="912.90" y1="2567.10" x2="953.30" y2="2567.10" stroke="#000" stroke-width="4.2" stroke-linecap="butt"/>
<circle cx="334.8" cy="2312.5" r="6.8" fill="#1a00ff"/><circle cx="334.8" cy="2365.6" r="6.8" fill="#1a00ff"/><circle cx="334.8" cy="2470.0" r="6.8" fill="#1a00ff"/><circle cx="334.8" cy="2482.1" r="6.8" fill="#1a00ff"/><circle cx="334.8" cy="2525.2" r="6.8" fill="#1a00ff"/><circle cx="334.8" cy="2542.9" r="6.8" fill="#1a00ff"/><circle cx="332.7" cy="2561.7" r="6.8" fill="#1a00ff"/><circle cx="337.9" cy="2568.3" r="6.8" fill="#1a00ff"/><circle cx="333.9" cy="2572.8" r="6.8" fill="#1a00ff"/><circle cx="330.3" cy="2578.6" r="6.8" fill="#1a00ff"/><circle cx="339.9" cy="2579.1" r="6.8" fill="#1a00ff"/><circle cx="321.7" cy="2587.1" r="6.8" fill="#1a00ff"/><circle cx="329.3" cy="2585.3" r="6.8" fill="#1a00ff"/><circle cx="340.1" cy="2586.3" r="6.8" fill="#1a00ff"/><circle cx="348.9" cy="2585.3" r="6.8" fill="#1a00ff"/><circle cx="321.2" cy="2594.2" r="6.8" fill="#1a00ff"/><circle cx="329.6" cy="2594.7" r="6.8" fill="#1a00ff"/><circle cx="340.3" cy="2592.5" r="6.8" fill="#1a00ff"/><circle cx="347.2" cy="2593.8" r="6.8" fill="#1a00ff"/><circle cx="330.5" cy="2600.6" r="6.8" fill="#1a00ff"/><circle cx="339.5" cy="2600.7" r="6.8" fill="#1a00ff"/><circle cx="329.5" cy="2607.5" r="6.8" fill="#1a00ff"/><circle cx="338.8" cy="2608.1" r="6.8" fill="#1a00ff"/><circle cx="396.7" cy="2472.0" r="6.8" fill="#1a00ff"/><circle cx="392.0" cy="2490.4" r="6.8" fill="#1a00ff"/><circle cx="401.5" cy="2494.0" r="6.8" fill="#1a00ff"/><circle cx="396.7" cy="2512.7" r="6.8" fill="#1a00ff"/><circle cx="396.7" cy="2532.5" r="6.8" fill="#1a00ff"/><circle cx="397.8" cy="2546.1" r="6.8" fill="#1a00ff"/><circle cx="393.2" cy="2551.2" r="6.8" fill="#1a00ff"/><circle cx="399.9" cy="2552.8" r="6.8" fill="#1a00ff"/><circle cx="394.5" cy="2559.0" r="6.8" fill="#1a00ff"/><circle cx="399.6" cy="2559.7" r="6.8" fill="#1a00ff"/><circle cx="393.5" cy="2565.9" r="6.8" fill="#1a00ff"/><circle cx="399.9" cy="2566.4" r="6.8" fill="#1a00ff"/><circle cx="387.4" cy="2575.1" r="6.8" fill="#1a00ff"/><circle cx="397.8" cy="2574.0" r="6.8" fill="#1a00ff"/><circle cx="406.4" cy="2573.3" r="6.8" fill="#1a00ff"/><circle cx="384.6" cy="2580.0" r="6.8" fill="#1a00ff"/><circle cx="392.9" cy="2580.7" r="6.8" fill="#1a00ff"/><circle cx="400.1" cy="2582.1" r="6.8" fill="#1a00ff"/><circle cx="407.8" cy="2581.3" r="6.8" fill="#1a00ff"/><circle cx="383.8" cy="2587.2" r="6.8" fill="#1a00ff"/><circle cx="392.2" cy="2587.5" r="6.8" fill="#1a00ff"/><circle cx="400.8" cy="2589.5" r="6.8" fill="#1a00ff"/><circle cx="409.3" cy="2587.6" r="6.8" fill="#1a00ff"/><circle cx="387.9" cy="2596.3" r="6.8" fill="#1a00ff"/><circle cx="397.3" cy="2596.6" r="6.8" fill="#1a00ff"/><circle cx="407.0" cy="2596.3" r="6.8" fill="#1a00ff"/><circle cx="390.0" cy="2604.0" r="6.8" fill="#1a00ff"/><circle cx="397.8" cy="2602.0" r="6.8" fill="#1a00ff"/><circle cx="403.7" cy="2603.3" r="6.8" fill="#1a00ff"/><circle cx="393.1" cy="2610.1" r="6.8" fill="#1a00ff"/><circle cx="400.2" cy="2611.0" r="6.8" fill="#1a00ff"/><circle cx="458.3" cy="2465.4" r="6.8" fill="#1a00ff"/><circle cx="458.3" cy="2478.8" r="6.8" fill="#1a00ff"/><circle cx="458.3" cy="2513.3" r="6.8" fill="#1a00ff"/><circle cx="457.7" cy="2540.1" r="6.8" fill="#1a00ff"/><circle cx="458.0" cy="2547.5" r="6.8" fill="#1a00ff"/><circle cx="458.6" cy="2553.4" r="6.8" fill="#1a00ff"/><circle cx="457.1" cy="2562.5" r="6.8" fill="#1a00ff"/><circle cx="457.7" cy="2568.3" r="6.8" fill="#1a00ff"/><circle cx="452.8" cy="2576.1" r="6.8" fill="#1a00ff"/><circle cx="459.1" cy="2576.1" r="6.8" fill="#1a00ff"/><circle cx="465.3" cy="2575.3" r="6.8" fill="#1a00ff"/><circle cx="446.8" cy="2584.2" r="6.8" fill="#1a00ff"/><circle cx="454.4" cy="2583.9" r="6.8" fill="#1a00ff"/><circle cx="462.7" cy="2582.3" r="6.8" fill="#1a00ff"/><circle cx="470.8" cy="2583.6" r="6.8" fill="#1a00ff"/><circle cx="445.1" cy="2589.4" r="6.8" fill="#1a00ff"/><circle cx="455.0" cy="2590.5" r="6.8" fill="#1a00ff"/><circle cx="463.1" cy="2591.5" r="6.8" fill="#1a00ff"/><circle cx="471.5" cy="2591.6" r="6.8" fill="#1a00ff"/><circle cx="444.6" cy="2598.5" r="6.8" fill="#1a00ff"/><circle cx="453.7" cy="2598.8" r="6.8" fill="#1a00ff"/><circle cx="463.7" cy="2596.8" r="6.8" fill="#1a00ff"/><circle cx="470.9" cy="2597.1" r="6.8" fill="#1a00ff"/><circle cx="453.9" cy="2604.9" r="6.8" fill="#1a00ff"/><circle cx="464.1" cy="2604.5" r="6.8" fill="#1a00ff"/><circle cx="458.3" cy="2612.0" r="6.8" fill="#1a00ff"/><circle cx="520.6" cy="2452.9" r="6.8" fill="#1a00ff"/><circle cx="520.6" cy="2491.2" r="6.8" fill="#1a00ff"/><circle cx="520.6" cy="2517.9" r="6.8" fill="#1a00ff"/><circle cx="520.6" cy="2539.8" r="6.8" fill="#1a00ff"/><circle cx="518.5" cy="2554.4" r="6.8" fill="#1a00ff"/><circle cx="520.0" cy="2561.0" r="6.8" fill="#1a00ff"/><circle cx="516.5" cy="2568.4" r="6.8" fill="#1a00ff"/><circle cx="523.4" cy="2569.0" r="6.8" fill="#1a00ff"/><circle cx="511.7" cy="2577.2" r="6.8" fill="#1a00ff"/><circle cx="521.2" cy="2575.8" r="6.8" fill="#1a00ff"/><circle cx="530.6" cy="2575.9" r="6.8" fill="#1a00ff"/><circle cx="506.3" cy="2582.7" r="6.8" fill="#1a00ff"/><circle cx="515.4" cy="2584.7" r="6.8" fill="#1a00ff"/><circle cx="525.9" cy="2584.4" r="6.8" fill="#1a00ff"/><circle cx="534.8" cy="2582.9" r="6.8" fill="#1a00ff"/><circle cx="506.6" cy="2591.2" r="6.8" fill="#1a00ff"/><circle cx="516.7" cy="2591.8" r="6.8" fill="#1a00ff"/><circle cx="526.0" cy="2589.9" r="6.8" fill="#1a00ff"/><circle cx="534.4" cy="2591.3" r="6.8" fill="#1a00ff"/><circle cx="513.2" cy="2597.4" r="6.8" fill="#1a00ff"/><circle cx="520.5" cy="2597.1" r="6.8" fill="#1a00ff"/><circle cx="529.0" cy="2599.0" r="6.8" fill="#1a00ff"/><circle cx="517.9" cy="2604.9" r="6.8" fill="#1a00ff"/><circle cx="524.4" cy="2605.5" r="6.8" fill="#1a00ff"/><circle cx="579.0" cy="2465.0" r="6.8" fill="#1a00ff"/><circle cx="586.0" cy="2462.0" r="6.8" fill="#1a00ff"/><circle cx="582.3" cy="2500.8" r="6.8" fill="#1a00ff"/><circle cx="582.3" cy="2509.6" r="6.8" fill="#1a00ff"/><circle cx="582.3" cy="2528.3" r="6.8" fill="#1a00ff"/><circle cx="580.7" cy="2534.6" r="6.8" fill="#1a00ff"/><circle cx="582.3" cy="2548.1" r="6.8" fill="#1a00ff"/><circle cx="582.3" cy="2571.0" r="6.8" fill="#1a00ff"/><circle cx="594.0" cy="2580.4" r="6.8" fill="#1a00ff"/><circle cx="569.0" cy="2598.0" r="6.8" fill="#1a00ff"/><circle cx="595.0" cy="2598.0" r="6.8" fill="#1a00ff"/><circle cx="584.0" cy="2603.0" r="6.8" fill="#1a00ff"/><circle cx="570.0" cy="2590.0" r="6.8" fill="#1a00ff"/><circle cx="575.0" cy="2580.0" r="6.8" fill="#1a00ff"/><circle cx="588.0" cy="2588.0" r="6.8" fill="#1a00ff"/><circle cx="578.0" cy="2595.0" r="6.8" fill="#1a00ff"/><circle cx="600.0" cy="2593.0" r="6.8" fill="#1a00ff"/><circle cx="565.0" cy="2585.0" r="6.8" fill="#1a00ff"/>
<circle cx="685.6" cy="2347.7" r="6.8" fill="#3a914b"/><circle cx="685.6" cy="2420.5" r="6.8" fill="#3a914b"/><circle cx="683.0" cy="2453.0" r="6.8" fill="#3a914b"/><circle cx="688.0" cy="2459.4" r="6.8" fill="#3a914b"/><circle cx="685.2" cy="2475.4" r="6.8" fill="#3a914b"/><circle cx="685.2" cy="2503.1" r="6.8" fill="#3a914b"/><circle cx="683.0" cy="2515.6" r="6.8" fill="#3a914b"/><circle cx="688.0" cy="2517.7" r="6.8" fill="#3a914b"/><circle cx="683.0" cy="2535.0" r="6.8" fill="#3a914b"/><circle cx="688.0" cy="2535.0" r="6.8" fill="#3a914b"/><circle cx="685.2" cy="2550.0" r="6.8" fill="#3a914b"/><circle cx="685.2" cy="2566.2" r="6.8" fill="#3a914b"/><circle cx="685.2" cy="2569.8" r="6.8" fill="#3a914b"/><circle cx="683.0" cy="2580.2" r="6.8" fill="#3a914b"/><circle cx="685.5" cy="2585.6" r="6.8" fill="#3a914b"/><circle cx="678.3" cy="2593.3" r="6.8" fill="#3a914b"/><circle cx="685.8" cy="2593.2" r="6.8" fill="#3a914b"/><circle cx="691.7" cy="2592.1" r="6.8" fill="#3a914b"/><circle cx="675.0" cy="2599.8" r="6.8" fill="#3a914b"/><circle cx="682.4" cy="2598.5" r="6.8" fill="#3a914b"/><circle cx="688.9" cy="2598.8" r="6.8" fill="#3a914b"/><circle cx="696.5" cy="2599.6" r="6.8" fill="#3a914b"/><circle cx="671.4" cy="2606.0" r="6.8" fill="#3a914b"/><circle cx="680.5" cy="2607.7" r="6.8" fill="#3a914b"/><circle cx="690.0" cy="2605.9" r="6.8" fill="#3a914b"/><circle cx="698.5" cy="2605.8" r="6.8" fill="#3a914b"/><circle cx="675.8" cy="2613.0" r="6.8" fill="#3a914b"/><circle cx="684.0" cy="2614.8" r="6.8" fill="#3a914b"/><circle cx="694.2" cy="2613.2" r="6.8" fill="#3a914b"/><circle cx="747.5" cy="2285.2" r="6.8" fill="#3a914b"/><circle cx="747.7" cy="2438.5" r="6.8" fill="#3a914b"/><circle cx="747.7" cy="2462.0" r="6.8" fill="#3a914b"/><circle cx="747.7" cy="2485.8" r="6.8" fill="#3a914b"/><circle cx="747.7" cy="2525.0" r="6.8" fill="#3a914b"/><circle cx="735.0" cy="2535.0" r="6.8" fill="#3a914b"/><circle cx="760.0" cy="2535.0" r="6.8" fill="#3a914b"/><circle cx="740.0" cy="2545.8" r="6.8" fill="#3a914b"/><circle cx="755.0" cy="2545.8" r="6.8" fill="#3a914b"/><circle cx="735.0" cy="2567.7" r="6.8" fill="#3a914b"/><circle cx="760.0" cy="2570.8" r="6.8" fill="#3a914b"/><circle cx="762.0" cy="2567.0" r="6.8" fill="#3a914b"/><circle cx="735.0" cy="2581.2" r="6.8" fill="#3a914b"/><circle cx="762.0" cy="2586.0" r="6.8" fill="#3a914b"/><circle cx="747.7" cy="2590.0" r="6.8" fill="#3a914b"/><circle cx="735.0" cy="2601.0" r="6.8" fill="#3a914b"/><circle cx="760.0" cy="2605.2" r="6.8" fill="#3a914b"/><circle cx="747.7" cy="2593.8" r="6.8" fill="#3a914b"/><circle cx="747.7" cy="2575.0" r="6.8" fill="#3a914b"/><circle cx="740.0" cy="2585.0" r="6.8" fill="#3a914b"/><circle cx="755.0" cy="2600.0" r="6.8" fill="#3a914b"/><circle cx="809.2" cy="2334.8" r="6.8" fill="#3a914b"/><circle cx="809.2" cy="2374.4" r="6.8" fill="#3a914b"/><circle cx="809.2" cy="2401.9" r="6.8" fill="#3a914b"/><circle cx="809.2" cy="2437.0" r="6.8" fill="#3a914b"/><circle cx="809.2" cy="2499.0" r="6.8" fill="#3a914b"/><circle cx="809.2" cy="2508.0" r="6.8" fill="#3a914b"/><circle cx="809.2" cy="2514.0" r="6.8" fill="#3a914b"/><circle cx="809.2" cy="2527.0" r="6.8" fill="#3a914b"/><circle cx="809.2" cy="2535.0" r="6.8" fill="#3a914b"/><circle cx="809.2" cy="2543.0" r="6.8" fill="#3a914b"/><circle cx="809.2" cy="2553.0" r="6.8" fill="#3a914b"/><circle cx="809.2" cy="2560.0" r="6.8" fill="#3a914b"/><circle cx="809.2" cy="2567.0" r="6.8" fill="#3a914b"/><circle cx="806.4" cy="2570.8" r="6.8" fill="#3a914b"/><circle cx="812.7" cy="2569.4" r="6.8" fill="#3a914b"/><circle cx="800.6" cy="2577.6" r="6.8" fill="#3a914b"/><circle cx="809.1" cy="2577.8" r="6.8" fill="#3a914b"/><circle cx="816.2" cy="2577.9" r="6.8" fill="#3a914b"/><circle cx="797.4" cy="2585.2" r="6.8" fill="#3a914b"/><circle cx="806.0" cy="2584.2" r="6.8" fill="#3a914b"/><circle cx="813.0" cy="2584.9" r="6.8" fill="#3a914b"/><circle cx="819.7" cy="2584.6" r="6.8" fill="#3a914b"/><circle cx="797.5" cy="2591.1" r="6.8" fill="#3a914b"/><circle cx="805.8" cy="2592.1" r="6.8" fill="#3a914b"/><circle cx="814.2" cy="2591.3" r="6.8" fill="#3a914b"/><circle cx="820.6" cy="2592.4" r="6.8" fill="#3a914b"/><circle cx="796.6" cy="2598.8" r="6.8" fill="#3a914b"/><circle cx="803.8" cy="2598.2" r="6.8" fill="#3a914b"/><circle cx="814.0" cy="2598.4" r="6.8" fill="#3a914b"/><circle cx="823.6" cy="2599.1" r="6.8" fill="#3a914b"/><circle cx="801.1" cy="2606.5" r="6.8" fill="#3a914b"/><circle cx="808.9" cy="2607.2" r="6.8" fill="#3a914b"/><circle cx="817.6" cy="2606.2" r="6.8" fill="#3a914b"/><circle cx="871.0" cy="2228.5" r="6.8" fill="#3a914b"/><circle cx="871.0" cy="2270.0" r="6.8" fill="#3a914b"/><circle cx="871.0" cy="2298.3" r="6.8" fill="#3a914b"/><circle cx="873.5" cy="2323.0" r="6.8" fill="#3a914b"/><circle cx="868.0" cy="2331.5" r="6.8" fill="#3a914b"/><circle cx="871.0" cy="2379.6" r="6.8" fill="#3a914b"/><circle cx="871.0" cy="2401.9" r="6.8" fill="#3a914b"/><circle cx="868.0" cy="2407.0" r="6.8" fill="#3a914b"/><circle cx="873.0" cy="2409.0" r="6.8" fill="#3a914b"/><circle cx="871.0" cy="2419.8" r="6.8" fill="#3a914b"/><circle cx="868.0" cy="2495.8" r="6.8" fill="#3a914b"/><circle cx="878.0" cy="2497.5" r="6.8" fill="#3a914b"/><circle cx="866.6" cy="2531.3" r="6.8" fill="#3a914b"/><circle cx="875.3" cy="2530.9" r="6.8" fill="#3a914b"/><circle cx="862.6" cy="2540.4" r="6.8" fill="#3a914b"/><circle cx="868.8" cy="2541.1" r="6.8" fill="#3a914b"/><circle cx="877.3" cy="2540.7" r="6.8" fill="#3a914b"/><circle cx="859.7" cy="2547.1" r="6.8" fill="#3a914b"/><circle cx="870.6" cy="2550.8" r="6.8" fill="#3a914b"/><circle cx="878.2" cy="2547.8" r="6.8" fill="#3a914b"/><circle cx="861.8" cy="2559.5" r="6.8" fill="#3a914b"/><circle cx="871.4" cy="2556.7" r="6.8" fill="#3a914b"/><circle cx="883.2" cy="2555.0" r="6.8" fill="#3a914b"/><circle cx="861.9" cy="2564.2" r="6.8" fill="#3a914b"/><circle cx="869.2" cy="2563.4" r="6.8" fill="#3a914b"/><circle cx="880.9" cy="2566.9" r="6.8" fill="#3a914b"/><circle cx="858.6" cy="2573.8" r="6.8" fill="#3a914b"/><circle cx="871.7" cy="2572.7" r="6.8" fill="#3a914b"/><circle cx="882.1" cy="2571.2" r="6.8" fill="#3a914b"/><circle cx="859.6" cy="2580.0" r="6.8" fill="#3a914b"/><circle cx="871.9" cy="2581.1" r="6.8" fill="#3a914b"/><circle cx="879.3" cy="2581.9" r="6.8" fill="#3a914b"/><circle cx="862.6" cy="2588.5" r="6.8" fill="#3a914b"/><circle cx="872.5" cy="2590.5" r="6.8" fill="#3a914b"/><circle cx="877.9" cy="2589.9" r="6.8" fill="#3a914b"/><circle cx="863.5" cy="2599.5" r="6.8" fill="#3a914b"/><circle cx="872.1" cy="2596.5" r="6.8" fill="#3a914b"/><circle cx="881.1" cy="2595.7" r="6.8" fill="#3a914b"/><circle cx="865.9" cy="2607.0" r="6.8" fill="#3a914b"/><circle cx="873.9" cy="2605.6" r="6.8" fill="#3a914b"/><circle cx="932.9" cy="2316.5" r="6.8" fill="#3a914b"/><circle cx="932.9" cy="2405.0" r="6.8" fill="#3a914b"/><circle cx="933.0" cy="2461.5" r="6.8" fill="#3a914b"/><circle cx="933.0" cy="2476.7" r="6.8" fill="#3a914b"/><circle cx="935.0" cy="2526.7" r="6.8" fill="#3a914b"/><circle cx="928.2" cy="2548.3" r="6.8" fill="#3a914b"/><circle cx="934.7" cy="2547.0" r="6.8" fill="#3a914b"/><circle cx="922.5" cy="2552.8" r="6.8" fill="#3a914b"/><circle cx="935.6" cy="2552.6" r="6.8" fill="#3a914b"/><circle cx="942.3" cy="2553.9" r="6.8" fill="#3a914b"/><circle cx="924.4" cy="2562.1" r="6.8" fill="#3a914b"/><circle cx="931.6" cy="2563.8" r="6.8" fill="#3a914b"/><circle cx="939.5" cy="2560.8" r="6.8" fill="#3a914b"/><circle cx="922.2" cy="2569.1" r="6.8" fill="#3a914b"/><circle cx="932.6" cy="2572.2" r="6.8" fill="#3a914b"/><circle cx="941.0" cy="2568.3" r="6.8" fill="#3a914b"/><circle cx="921.7" cy="2580.8" r="6.8" fill="#3a914b"/><circle cx="930.9" cy="2578.9" r="6.8" fill="#3a914b"/><circle cx="942.6" cy="2579.1" r="6.8" fill="#3a914b"/><circle cx="921.2" cy="2587.3" r="6.8" fill="#3a914b"/><circle cx="933.1" cy="2587.1" r="6.8" fill="#3a914b"/><circle cx="946.2" cy="2586.8" r="6.8" fill="#3a914b"/><circle cx="922.6" cy="2592.3" r="6.8" fill="#3a914b"/><circle cx="935.3" cy="2594.4" r="6.8" fill="#3a914b"/><circle cx="940.2" cy="2596.7" r="6.8" fill="#3a914b"/><circle cx="929.2" cy="2603.7" r="6.8" fill="#3a914b"/><circle cx="939.3" cy="2601.5" r="6.8" fill="#3a914b"/>
<text transform="translate(1139.50,2112.08) scale(0.8698,1)" font-size="43.28" font-weight="700" fill="#000" stroke="#000" stroke-width="0.6">g</text>
<text transform="translate(1541.30,2132.70) scale(0.9369,1)" font-size="55.38" font-weight="400" fill="#000">EO771 organoids</text>
<line x1="1537.80" y1="2137.30" x2="1948.60" y2="2137.30" stroke="#000" stroke-width="4.3" stroke-linecap="butt"/>
<path d="M1371.25,2168.80H2097.7V2642.40H1371.25" fill="none" stroke="#000" stroke-width="4.5"/>
<line x1="1390.60" y1="2166.60" x2="1390.60" y2="2644.60" stroke="#000" stroke-width="4.5" stroke-linecap="butt"/>
<line x1="1371.25" y1="2642.40" x2="1390.60" y2="2642.40" stroke="#000" stroke-width="4.5" stroke-linecap="butt"/>
<line x1="1371.25" y1="2524.00" x2="1390.60" y2="2524.00" stroke="#000" stroke-width="4.5" stroke-linecap="butt"/>
<line x1="1371.25" y1="2405.60" x2="1390.60" y2="2405.60" stroke="#000" stroke-width="4.5" stroke-linecap="butt"/>
<line x1="1371.25" y1="2287.20" x2="1390.60" y2="2287.20" stroke="#000" stroke-width="4.5" stroke-linecap="butt"/>
<line x1="1371.25" y1="2168.80" x2="1390.60" y2="2168.80" stroke="#000" stroke-width="4.5" stroke-linecap="butt"/>
<text transform="translate(1303.10,2654.55) scale(1.0000,1)" font-size="35.31" font-weight="700" fill="#000" stroke="#000" stroke-width="0.6">100</text>
<text transform="translate(1283.43,2536.15) scale(1.0000,1)" font-size="35.31" font-weight="700" fill="#000" stroke="#000" stroke-width="0.6">1000</text>
<text transform="translate(1263.80,2417.75) scale(1.0000,1)" font-size="35.31" font-weight="700" fill="#000" stroke="#000" stroke-width="0.6">10000</text>
<text transform="translate(1244.17,2299.35) scale(1.0000,1)" font-size="35.31" font-weight="700" fill="#000" stroke="#000" stroke-width="0.6">100000</text>
<text transform="translate(1224.54,2180.95) scale(1.0000,1)" font-size="35.31" font-weight="700" fill="#000" stroke="#000" stroke-width="0.6">1000000</text>
<line x1="1744.60" y1="2168.80" x2="1744.60" y2="2212.50" stroke="#000" stroke-width="4.5" stroke-linecap="butt"/>
<line x1="1744.60" y1="2261.00" x2="1744.60" y2="2645.40" stroke="#000" stroke-width="4.5" stroke-linecap="butt"/>
<line x1="1560.30" y1="2642.40" x2="1560.30" y2="2661.60" stroke="#000" stroke-width="4.5" stroke-linecap="butt"/>
<line x1="1927.50" y1="2642.40" x2="1927.50" y2="2661.60" stroke="#000" stroke-width="4.5" stroke-linecap="butt"/>
<text transform="translate(1513.60,2702.46) scale(1.0166,1)" font-size="34.46" font-weight="700" fill="#000" stroke="#000" stroke-width="0.6">CTRL</text>
<text transform="translate(1902.10,2702.80) scale(0.9796,1)" font-size="35.47" font-weight="700" fill="#000" stroke="#000" stroke-width="0.6">IL6</text>
<text transform="translate(1617.50,2256.38) scale(0.9928,1)" font-size="51.69" font-weight="400" fill="#000">p=0.0040</text>
<text transform="translate(1201.50,2631.50) rotate(-90) scale(0.9220,1)" font-size="41.28" font-weight="700" fill="#000" stroke="#000" stroke-width="0.6">Area of organoids (px^2)</text>
<line x1="1417.20" y1="2559.30" x2="1468.90" y2="2559.30" stroke="#000" stroke-width="4.6" stroke-linecap="butt"/>
<line x1="1495.60" y1="2562.30" x2="1547.50" y2="2562.30" stroke="#000" stroke-width="4.6" stroke-linecap="butt"/>
<line x1="1574.20" y1="2580.50" x2="1625.80" y2="2580.50" stroke="#000" stroke-width="4.6" stroke-linecap="butt"/>
<line x1="1653.20" y1="2536.40" x2="1704.80" y2="2536.40" stroke="#000" stroke-width="4.6" stroke-linecap="butt"/>
<line x1="1784.00" y1="2549.10" x2="1835.00" y2="2549.10" stroke="#000" stroke-width="4.6" stroke-linecap="butt"/>
<line x1="1862.40" y1="2540.60" x2="1913.70" y2="2540.60" stroke="#000" stroke-width="4.6" stroke-linecap="butt"/>
<line x1="1940.80" y1="2538.00" x2="1992.00" y2="2538.00" stroke="#000" stroke-width="4.6" stroke-linecap="butt"/>
<line x1="2019.40" y1="2536.00" x2="2071.00" y2="2536.00" stroke="#000" stroke-width="4.6" stroke-linecap="butt"/>
<circle cx="1442.9" cy="2359.8" r="2.65" fill="#1a00ff"/><circle cx="1442.9" cy="2384.5" r="2.65" fill="#1a00ff"/><circle cx="1442.9" cy="2404.7" r="2.65" fill="#1a00ff"/><circle cx="1442.9" cy="2426.0" r="2.65" fill="#1a00ff"/><circle cx="1442.9" cy="2439.4" r="2.65" fill="#1a00ff"/><circle cx="1442.9" cy="2476.6" r="2.65" fill="#1a00ff"/><circle cx="1438.5" cy="2521.4" r="2.65" fill="#1a00ff"/><circle cx="1447.6" cy="2525.2" r="2.65" fill="#1a00ff"/><circle cx="1438.5" cy="2561.3" r="2.65" fill="#1a00ff"/><circle cx="1447.6" cy="2559.3" r="2.65" fill="#1a00ff"/><circle cx="1442.9" cy="2567.0" r="2.65" fill="#1a00ff"/><circle cx="1442.9" cy="2573.4" r="2.65" fill="#1a00ff"/><circle cx="1438.5" cy="2577.9" r="2.65" fill="#1a00ff"/><circle cx="1447.6" cy="2582.0" r="2.65" fill="#1a00ff"/><circle cx="1438.5" cy="2592.3" r="2.65" fill="#1a00ff"/><circle cx="1447.6" cy="2595.1" r="2.65" fill="#1a00ff"/><circle cx="1442.9" cy="2602.4" r="2.65" fill="#1a00ff"/>
<circle cx="1521.5" cy="2308.5" r="2.65" fill="#1a00ff"/><circle cx="1523.6" cy="2313.8" r="2.65" fill="#1a00ff"/><circle cx="1519.5" cy="2317.8" r="2.65" fill="#1a00ff"/><circle cx="1523.6" cy="2319.9" r="2.65" fill="#1a00ff"/><circle cx="1523.6" cy="2346.2" r="2.65" fill="#1a00ff"/><circle cx="1519.5" cy="2349.0" r="2.65" fill="#1a00ff"/><circle cx="1523.6" cy="2350.6" r="2.65" fill="#1a00ff"/><circle cx="1521.5" cy="2360.8" r="2.65" fill="#1a00ff"/><circle cx="1521.5" cy="2366.8" r="2.65" fill="#1a00ff"/><circle cx="1519.5" cy="2391.1" r="2.65" fill="#1a00ff"/><circle cx="1523.6" cy="2394.4" r="2.65" fill="#1a00ff"/><circle cx="1517.5" cy="2417.1" r="2.65" fill="#1a00ff"/><circle cx="1521.5" cy="2419.5" r="2.65" fill="#1a00ff"/><circle cx="1525.6" cy="2417.9" r="2.65" fill="#1a00ff"/><circle cx="1519.5" cy="2430.6" r="2.65" fill="#1a00ff"/><circle cx="1523.6" cy="2432.7" r="2.65" fill="#1a00ff"/><circle cx="1519.5" cy="2443.0" r="2.65" fill="#1a00ff"/><circle cx="1523.6" cy="2443.0" r="2.65" fill="#1a00ff"/><circle cx="1519.5" cy="2459.0" r="2.65" fill="#1a00ff"/><circle cx="1523.6" cy="2462.6" r="2.65" fill="#1a00ff"/><circle cx="1519.5" cy="2471.6" r="2.65" fill="#1a00ff"/><circle cx="1523.6" cy="2471.6" r="2.65" fill="#1a00ff"/><circle cx="1516.5" cy="2480.9" r="2.65" fill="#1a00ff"/><circle cx="1521.5" cy="2480.9" r="2.65" fill="#1a00ff"/><circle cx="1526.6" cy="2483.3" r="2.65" fill="#1a00ff"/><circle cx="1516.5" cy="2485.9" r="2.65" fill="#1a00ff"/><circle cx="1521.5" cy="2487.4" r="2.65" fill="#1a00ff"/><circle cx="1526.6" cy="2488.8" r="2.65" fill="#1a00ff"/><circle cx="1519.5" cy="2492.8" r="2.65" fill="#1a00ff"/><circle cx="1516.5" cy="2504.6" r="2.65" fill="#1a00ff"/><circle cx="1521.5" cy="2504.2" r="2.65" fill="#1a00ff"/><circle cx="1526.6" cy="2505.6" r="2.65" fill="#1a00ff"/><circle cx="1521.5" cy="2510.7" r="2.65" fill="#1a00ff"/><circle cx="1516.5" cy="2517.7" r="2.65" fill="#1a00ff"/><circle cx="1521.5" cy="2517.7" r="2.65" fill="#1a00ff"/><circle cx="1516.5" cy="2523.8" r="2.65" fill="#1a00ff"/><circle cx="1521.5" cy="2523.8" r="2.65" fill="#1a00ff"/><circle cx="1526.6" cy="2527.9" r="2.65" fill="#1a00ff"/><circle cx="1516.5" cy="2529.9" r="2.65" fill="#1a00ff"/><circle cx="1521.5" cy="2530.9" r="2.65" fill="#1a00ff"/><circle cx="1519.5" cy="2537.0" r="2.65" fill="#1a00ff"/><circle cx="1523.6" cy="2543.1" r="2.65" fill="#1a00ff"/><circle cx="1517.5" cy="2549.1" r="2.65" fill="#1a00ff"/><circle cx="1523.6" cy="2548.7" r="2.65" fill="#1a00ff"/><circle cx="1517.5" cy="2555.2" r="2.65" fill="#1a00ff"/><circle cx="1525.6" cy="2556.8" r="2.65" fill="#1a00ff"/><circle cx="1516.5" cy="2560.3" r="2.65" fill="#1a00ff"/><circle cx="1519.5" cy="2562.3" r="2.65" fill="#1a00ff"/><circle cx="1523.6" cy="2563.3" r="2.65" fill="#1a00ff"/><circle cx="1526.6" cy="2564.3" r="2.65" fill="#1a00ff"/><circle cx="1513.4" cy="2568.4" r="2.65" fill="#1a00ff"/><circle cx="1519.5" cy="2567.4" r="2.65" fill="#1a00ff"/><circle cx="1523.6" cy="2569.4" r="2.65" fill="#1a00ff"/><circle cx="1529.6" cy="2570.4" r="2.65" fill="#1a00ff"/><circle cx="1509.4" cy="2573.4" r="2.65" fill="#1a00ff"/><circle cx="1515.5" cy="2575.5" r="2.65" fill="#1a00ff"/><circle cx="1521.5" cy="2574.5" r="2.65" fill="#1a00ff"/><circle cx="1530.6" cy="2575.5" r="2.65" fill="#1a00ff"/><circle cx="1523.6" cy="2579.5" r="2.65" fill="#1a00ff"/><circle cx="1512.4" cy="2585.6" r="2.65" fill="#1a00ff"/><circle cx="1519.5" cy="2585.6" r="2.65" fill="#1a00ff"/><circle cx="1530.6" cy="2586.6" r="2.65" fill="#1a00ff"/><circle cx="1498.2" cy="2593.7" r="2.65" fill="#1a00ff"/><circle cx="1503.3" cy="2591.3" r="2.65" fill="#1a00ff"/><circle cx="1508.4" cy="2593.3" r="2.65" fill="#1a00ff"/><circle cx="1513.4" cy="2595.3" r="2.65" fill="#1a00ff"/><circle cx="1516.5" cy="2591.3" r="2.65" fill="#1a00ff"/><circle cx="1521.5" cy="2594.7" r="2.65" fill="#1a00ff"/><circle cx="1526.6" cy="2593.7" r="2.65" fill="#1a00ff"/><circle cx="1531.7" cy="2591.7" r="2.65" fill="#1a00ff"/><circle cx="1536.7" cy="2591.7" r="2.65" fill="#1a00ff"/><circle cx="1541.8" cy="2593.3" r="2.65" fill="#1a00ff"/><circle cx="1545.8" cy="2594.1" r="2.65" fill="#1a00ff"/><circle cx="1501.3" cy="2597.8" r="2.65" fill="#1a00ff"/><circle cx="1509.4" cy="2598.8" r="2.65" fill="#1a00ff"/><circle cx="1515.5" cy="2597.3" r="2.65" fill="#1a00ff"/><circle cx="1523.6" cy="2597.8" r="2.65" fill="#1a00ff"/><circle cx="1529.6" cy="2598.2" r="2.65" fill="#1a00ff"/><circle cx="1535.7" cy="2595.7" r="2.65" fill="#1a00ff"/><circle cx="1541.8" cy="2597.8" r="2.65" fill="#1a00ff"/><circle cx="1505.3" cy="2604.8" r="2.65" fill="#1a00ff"/><circle cx="1512.4" cy="2603.8" r="2.65" fill="#1a00ff"/><circle cx="1519.5" cy="2605.9" r="2.65" fill="#1a00ff"/><circle cx="1527.6" cy="2605.4" r="2.65" fill="#1a00ff"/><circle cx="1534.7" cy="2604.8" r="2.65" fill="#1a00ff"/><circle cx="1539.8" cy="2602.8" r="2.65" fill="#1a00ff"/>
<circle cx="1600.1" cy="2344.0" r="2.65" fill="#1a00ff"/><circle cx="1598.5" cy="2360.8" r="2.65" fill="#1a00ff"/><circle cx="1602.6" cy="2362.8" r="2.65" fill="#1a00ff"/><circle cx="1600.1" cy="2381.0" r="2.65" fill="#1a00ff"/><circle cx="1598.1" cy="2404.9" r="2.65" fill="#1a00ff"/><circle cx="1602.6" cy="2408.4" r="2.65" fill="#1a00ff"/><circle cx="1600.1" cy="2421.5" r="2.65" fill="#1a00ff"/><circle cx="1598.1" cy="2443.2" r="2.65" fill="#1a00ff"/><circle cx="1602.6" cy="2446.2" r="2.65" fill="#1a00ff"/><circle cx="1598.1" cy="2474.2" r="2.65" fill="#1a00ff"/><circle cx="1602.6" cy="2473.8" r="2.65" fill="#1a00ff"/><circle cx="1600.1" cy="2481.9" r="2.65" fill="#1a00ff"/><circle cx="1600.1" cy="2490.4" r="2.65" fill="#1a00ff"/><circle cx="1602.6" cy="2503.0" r="2.65" fill="#1a00ff"/><circle cx="1598.1" cy="2506.2" r="2.65" fill="#1a00ff"/><circle cx="1595.5" cy="2516.7" r="2.65" fill="#1a00ff"/><circle cx="1600.1" cy="2519.8" r="2.65" fill="#1a00ff"/><circle cx="1604.6" cy="2518.8" r="2.65" fill="#1a00ff"/><circle cx="1600.1" cy="2524.8" r="2.65" fill="#1a00ff"/><circle cx="1598.1" cy="2530.9" r="2.65" fill="#1a00ff"/><circle cx="1602.6" cy="2530.9" r="2.65" fill="#1a00ff"/><circle cx="1598.1" cy="2539.4" r="2.65" fill="#1a00ff"/><circle cx="1602.6" cy="2539.4" r="2.65" fill="#1a00ff"/><circle cx="1600.1" cy="2548.1" r="2.65" fill="#1a00ff"/><circle cx="1594.0" cy="2554.2" r="2.65" fill="#1a00ff"/><circle cx="1600.1" cy="2556.2" r="2.65" fill="#1a00ff"/><circle cx="1606.6" cy="2556.2" r="2.65" fill="#1a00ff"/><circle cx="1611.3" cy="2553.2" r="2.65" fill="#1a00ff"/><circle cx="1589.4" cy="2565.7" r="2.65" fill="#1a00ff"/><circle cx="1598.1" cy="2563.3" r="2.65" fill="#1a00ff"/><circle cx="1595.5" cy="2569.8" r="2.65" fill="#1a00ff"/><circle cx="1600.1" cy="2569.4" r="2.65" fill="#1a00ff"/><circle cx="1606.6" cy="2569.8" r="2.65" fill="#1a00ff"/><circle cx="1590.4" cy="2575.1" r="2.65" fill="#1a00ff"/><circle cx="1611.3" cy="2575.9" r="2.65" fill="#1a00ff"/><circle cx="1576.2" cy="2580.5" r="2.65" fill="#1a00ff"/><circle cx="1581.3" cy="2580.5" r="2.65" fill="#1a00ff"/><circle cx="1588.4" cy="2580.5" r="2.65" fill="#1a00ff"/><circle cx="1594.5" cy="2581.5" r="2.65" fill="#1a00ff"/><circle cx="1600.5" cy="2583.6" r="2.65" fill="#1a00ff"/><circle cx="1606.6" cy="2582.6" r="2.65" fill="#1a00ff"/><circle cx="1611.7" cy="2581.1" r="2.65" fill="#1a00ff"/><circle cx="1617.7" cy="2581.5" r="2.65" fill="#1a00ff"/><circle cx="1622.8" cy="2582.6" r="2.65" fill="#1a00ff"/><circle cx="1594.5" cy="2587.2" r="2.65" fill="#1a00ff"/><circle cx="1606.6" cy="2587.6" r="2.65" fill="#1a00ff"/><circle cx="1576.2" cy="2592.1" r="2.65" fill="#1a00ff"/><circle cx="1581.3" cy="2595.7" r="2.65" fill="#1a00ff"/><circle cx="1586.3" cy="2594.1" r="2.65" fill="#1a00ff"/><circle cx="1591.4" cy="2593.7" r="2.65" fill="#1a00ff"/><circle cx="1595.5" cy="2595.7" r="2.65" fill="#1a00ff"/><circle cx="1600.5" cy="2594.7" r="2.65" fill="#1a00ff"/><circle cx="1606.6" cy="2595.7" r="2.65" fill="#1a00ff"/><circle cx="1611.3" cy="2592.1" r="2.65" fill="#1a00ff"/><circle cx="1615.7" cy="2594.7" r="2.65" fill="#1a00ff"/><circle cx="1620.8" cy="2596.1" r="2.65" fill="#1a00ff"/><circle cx="1623.8" cy="2596.7" r="2.65" fill="#1a00ff"/><circle cx="1584.3" cy="2599.4" r="2.65" fill="#1a00ff"/><circle cx="1590.4" cy="2599.8" r="2.65" fill="#1a00ff"/><circle cx="1595.5" cy="2599.4" r="2.65" fill="#1a00ff"/><circle cx="1602.6" cy="2598.8" r="2.65" fill="#1a00ff"/><circle cx="1608.6" cy="2599.4" r="2.65" fill="#1a00ff"/><circle cx="1619.8" cy="2599.8" r="2.65" fill="#1a00ff"/><circle cx="1581.3" cy="2605.9" r="2.65" fill="#1a00ff"/><circle cx="1589.4" cy="2603.8" r="2.65" fill="#1a00ff"/><circle cx="1598.1" cy="2606.9" r="2.65" fill="#1a00ff"/><circle cx="1606.6" cy="2606.3" r="2.65" fill="#1a00ff"/><circle cx="1611.3" cy="2606.9" r="2.65" fill="#1a00ff"/><circle cx="1615.7" cy="2606.3" r="2.65" fill="#1a00ff"/><circle cx="1619.8" cy="2603.8" r="2.65" fill="#1a00ff"/>
<circle cx="1678.9" cy="2318.2" r="2.65" fill="#1a00ff"/><circle cx="1678.9" cy="2323.3" r="2.65" fill="#1a00ff"/><circle cx="1678.9" cy="2342.5" r="2.65" fill="#1a00ff"/><circle cx="1678.9" cy="2359.8" r="2.65" fill="#1a00ff"/><circle cx="1678.9" cy="2372.5" r="2.65" fill="#1a00ff"/><circle cx="1678.9" cy="2377.6" r="2.65" fill="#1a00ff"/><circle cx="1673.9" cy="2385.5" r="2.65" fill="#1a00ff"/><circle cx="1683.6" cy="2385.5" r="2.65" fill="#1a00ff"/><circle cx="1678.9" cy="2400.9" r="2.65" fill="#1a00ff"/><circle cx="1678.9" cy="2420.9" r="2.65" fill="#1a00ff"/><circle cx="1678.9" cy="2445.8" r="2.65" fill="#1a00ff"/><circle cx="1678.9" cy="2461.4" r="2.65" fill="#1a00ff"/><circle cx="1673.9" cy="2468.5" r="2.65" fill="#1a00ff"/><circle cx="1664.3" cy="2471.6" r="2.65" fill="#1a00ff"/><circle cx="1673.9" cy="2476.2" r="2.65" fill="#1a00ff"/><circle cx="1683.6" cy="2479.1" r="2.65" fill="#1a00ff"/><circle cx="1692.7" cy="2476.2" r="2.65" fill="#1a00ff"/><circle cx="1673.9" cy="2491.4" r="2.65" fill="#1a00ff"/><circle cx="1683.6" cy="2494.9" r="2.65" fill="#1a00ff"/><circle cx="1673.9" cy="2499.1" r="2.65" fill="#1a00ff"/><circle cx="1683.6" cy="2500.1" r="2.65" fill="#1a00ff"/><circle cx="1669.4" cy="2509.6" r="2.65" fill="#1a00ff"/><circle cx="1678.9" cy="2510.7" r="2.65" fill="#1a00ff"/><circle cx="1688.0" cy="2512.3" r="2.65" fill="#1a00ff"/><circle cx="1678.9" cy="2517.7" r="2.65" fill="#1a00ff"/><circle cx="1664.3" cy="2531.9" r="2.65" fill="#1a00ff"/><circle cx="1692.7" cy="2535.0" r="2.65" fill="#1a00ff"/><circle cx="1673.9" cy="2536.0" r="2.65" fill="#1a00ff"/><circle cx="1673.9" cy="2544.7" r="2.65" fill="#1a00ff"/><circle cx="1683.6" cy="2549.1" r="2.65" fill="#1a00ff"/><circle cx="1655.2" cy="2551.8" r="2.65" fill="#1a00ff"/><circle cx="1664.3" cy="2554.2" r="2.65" fill="#1a00ff"/><circle cx="1683.6" cy="2554.2" r="2.65" fill="#1a00ff"/><circle cx="1692.7" cy="2552.2" r="2.65" fill="#1a00ff"/><circle cx="1702.4" cy="2554.6" r="2.65" fill="#1a00ff"/><circle cx="1664.3" cy="2559.3" r="2.65" fill="#1a00ff"/><circle cx="1673.9" cy="2558.9" r="2.65" fill="#1a00ff"/><circle cx="1683.6" cy="2559.9" r="2.65" fill="#1a00ff"/><circle cx="1692.7" cy="2558.9" r="2.65" fill="#1a00ff"/><circle cx="1678.9" cy="2571.4" r="2.65" fill="#1a00ff"/><circle cx="1683.6" cy="2577.1" r="2.65" fill="#1a00ff"/><circle cx="1655.2" cy="2581.5" r="2.65" fill="#1a00ff"/><circle cx="1664.3" cy="2580.5" r="2.65" fill="#1a00ff"/><circle cx="1673.9" cy="2582.6" r="2.65" fill="#1a00ff"/><circle cx="1683.6" cy="2583.6" r="2.65" fill="#1a00ff"/><circle cx="1692.7" cy="2583.6" r="2.65" fill="#1a00ff"/><circle cx="1702.4" cy="2581.5" r="2.65" fill="#1a00ff"/><circle cx="1678.9" cy="2591.1" r="2.65" fill="#1a00ff"/><circle cx="1673.9" cy="2596.7" r="2.65" fill="#1a00ff"/><circle cx="1655.2" cy="2602.4" r="2.65" fill="#1a00ff"/><circle cx="1664.3" cy="2606.9" r="2.65" fill="#1a00ff"/><circle cx="1673.9" cy="2601.8" r="2.65" fill="#1a00ff"/><circle cx="1683.6" cy="2604.2" r="2.65" fill="#1a00ff"/><circle cx="1692.7" cy="2603.4" r="2.65" fill="#1a00ff"/><circle cx="1702.4" cy="2600.4" r="2.65" fill="#1a00ff"/>
<circle cx="1809.3" cy="2312.2" r="2.65" fill="#3a914b"/><circle cx="1809.3" cy="2323.3" r="2.65" fill="#3a914b"/><circle cx="1809.3" cy="2328.4" r="2.65" fill="#3a914b"/><circle cx="1803.7" cy="2358.3" r="2.65" fill="#3a914b"/><circle cx="1809.3" cy="2355.1" r="2.65" fill="#3a914b"/><circle cx="1815.2" cy="2354.3" r="2.65" fill="#3a914b"/><circle cx="1809.3" cy="2361.8" r="2.65" fill="#3a914b"/><circle cx="1809.3" cy="2366.8" r="2.65" fill="#3a914b"/><circle cx="1803.7" cy="2377.0" r="2.65" fill="#3a914b"/><circle cx="1809.3" cy="2380.0" r="2.65" fill="#3a914b"/><circle cx="1815.2" cy="2378.6" r="2.65" fill="#3a914b"/><circle cx="1809.3" cy="2388.7" r="2.65" fill="#3a914b"/><circle cx="1803.7" cy="2393.6" r="2.65" fill="#3a914b"/><circle cx="1815.2" cy="2393.2" r="2.65" fill="#3a914b"/><circle cx="1809.3" cy="2406.3" r="2.65" fill="#3a914b"/><circle cx="1809.3" cy="2411.4" r="2.65" fill="#3a914b"/><circle cx="1803.7" cy="2420.5" r="2.65" fill="#3a914b"/><circle cx="1809.3" cy="2424.6" r="2.65" fill="#3a914b"/><circle cx="1815.2" cy="2424.6" r="2.65" fill="#3a914b"/><circle cx="1803.7" cy="2444.2" r="2.65" fill="#3a914b"/><circle cx="1809.3" cy="2447.9" r="2.65" fill="#3a914b"/><circle cx="1803.7" cy="2464.5" r="2.65" fill="#3a914b"/><circle cx="1809.3" cy="2470.1" r="2.65" fill="#3a914b"/><circle cx="1815.2" cy="2468.5" r="2.65" fill="#3a914b"/><circle cx="1809.3" cy="2474.2" r="2.65" fill="#3a914b"/><circle cx="1803.7" cy="2483.9" r="2.65" fill="#3a914b"/><circle cx="1809.3" cy="2485.3" r="2.65" fill="#3a914b"/><circle cx="1803.7" cy="2488.4" r="2.65" fill="#3a914b"/><circle cx="1815.2" cy="2492.4" r="2.65" fill="#3a914b"/><circle cx="1803.7" cy="2496.1" r="2.65" fill="#3a914b"/><circle cx="1809.3" cy="2499.5" r="2.65" fill="#3a914b"/><circle cx="1809.3" cy="2505.2" r="2.65" fill="#3a914b"/><circle cx="1803.7" cy="2510.2" r="2.65" fill="#3a914b"/><circle cx="1815.2" cy="2514.3" r="2.65" fill="#3a914b"/><circle cx="1821.3" cy="2510.2" r="2.65" fill="#3a914b"/><circle cx="1809.3" cy="2514.3" r="2.65" fill="#3a914b"/><circle cx="1815.2" cy="2519.2" r="2.65" fill="#3a914b"/><circle cx="1809.3" cy="2522.4" r="2.65" fill="#3a914b"/><circle cx="1809.3" cy="2535.0" r="2.65" fill="#3a914b"/><circle cx="1803.7" cy="2540.0" r="2.65" fill="#3a914b"/><circle cx="1815.2" cy="2539.0" r="2.65" fill="#3a914b"/><circle cx="1809.3" cy="2541.4" r="2.65" fill="#3a914b"/><circle cx="1797.6" cy="2548.7" r="2.65" fill="#3a914b"/><circle cx="1803.7" cy="2549.5" r="2.65" fill="#3a914b"/><circle cx="1809.3" cy="2550.8" r="2.65" fill="#3a914b"/><circle cx="1815.2" cy="2550.8" r="2.65" fill="#3a914b"/><circle cx="1821.3" cy="2549.1" r="2.65" fill="#3a914b"/><circle cx="1803.7" cy="2555.6" r="2.65" fill="#3a914b"/><circle cx="1809.3" cy="2556.2" r="2.65" fill="#3a914b"/><circle cx="1803.7" cy="2560.3" r="2.65" fill="#3a914b"/><circle cx="1791.9" cy="2563.9" r="2.65" fill="#3a914b"/><circle cx="1797.6" cy="2562.3" r="2.65" fill="#3a914b"/><circle cx="1803.7" cy="2565.3" r="2.65" fill="#3a914b"/><circle cx="1809.3" cy="2567.0" r="2.65" fill="#3a914b"/><circle cx="1815.2" cy="2565.7" r="2.65" fill="#3a914b"/><circle cx="1821.3" cy="2562.9" r="2.65" fill="#3a914b"/><circle cx="1827.0" cy="2563.9" r="2.65" fill="#3a914b"/><circle cx="1797.6" cy="2568.4" r="2.65" fill="#3a914b"/><circle cx="1809.3" cy="2572.4" r="2.65" fill="#3a914b"/><circle cx="1791.9" cy="2577.5" r="2.65" fill="#3a914b"/><circle cx="1821.3" cy="2575.5" r="2.65" fill="#3a914b"/><circle cx="1791.9" cy="2581.1" r="2.65" fill="#3a914b"/><circle cx="1797.6" cy="2581.1" r="2.65" fill="#3a914b"/><circle cx="1803.7" cy="2583.2" r="2.65" fill="#3a914b"/><circle cx="1809.3" cy="2580.1" r="2.65" fill="#3a914b"/><circle cx="1815.2" cy="2581.5" r="2.65" fill="#3a914b"/><circle cx="1821.3" cy="2580.1" r="2.65" fill="#3a914b"/><circle cx="1827.0" cy="2581.5" r="2.65" fill="#3a914b"/><circle cx="1791.9" cy="2586.6" r="2.65" fill="#3a914b"/><circle cx="1797.6" cy="2588.6" r="2.65" fill="#3a914b"/><circle cx="1803.7" cy="2588.6" r="2.65" fill="#3a914b"/><circle cx="1809.3" cy="2589.6" r="2.65" fill="#3a914b"/><circle cx="1815.2" cy="2588.0" r="2.65" fill="#3a914b"/><circle cx="1827.0" cy="2587.6" r="2.65" fill="#3a914b"/><circle cx="1786.1" cy="2594.1" r="2.65" fill="#3a914b"/><circle cx="1791.9" cy="2594.1" r="2.65" fill="#3a914b"/><circle cx="1797.6" cy="2591.7" r="2.65" fill="#3a914b"/><circle cx="1803.7" cy="2595.3" r="2.65" fill="#3a914b"/><circle cx="1809.3" cy="2594.1" r="2.65" fill="#3a914b"/><circle cx="1815.2" cy="2594.7" r="2.65" fill="#3a914b"/><circle cx="1821.3" cy="2592.7" r="2.65" fill="#3a914b"/><circle cx="1827.0" cy="2595.3" r="2.65" fill="#3a914b"/><circle cx="1786.1" cy="2600.2" r="2.65" fill="#3a914b"/><circle cx="1791.9" cy="2602.2" r="2.65" fill="#3a914b"/><circle cx="1797.6" cy="2600.8" r="2.65" fill="#3a914b"/><circle cx="1803.7" cy="2603.8" r="2.65" fill="#3a914b"/><circle cx="1809.3" cy="2603.2" r="2.65" fill="#3a914b"/><circle cx="1815.2" cy="2604.8" r="2.65" fill="#3a914b"/><circle cx="1821.3" cy="2602.2" r="2.65" fill="#3a914b"/><circle cx="1827.0" cy="2601.8" r="2.65" fill="#3a914b"/><circle cx="1833.0" cy="2602.2" r="2.65" fill="#3a914b"/><circle cx="1803.7" cy="2607.9" r="2.65" fill="#3a914b"/><circle cx="1809.3" cy="2597.8" r="2.65" fill="#3a914b"/><circle cx="1815.2" cy="2598.8" r="2.65" fill="#3a914b"/><circle cx="1797.6" cy="2596.1" r="2.65" fill="#3a914b"/>
<circle cx="1888.1" cy="2306.5" r="2.65" fill="#3a914b"/><circle cx="1888.1" cy="2328.4" r="2.65" fill="#3a914b"/><circle cx="1888.1" cy="2333.4" r="2.65" fill="#3a914b"/><circle cx="1894.2" cy="2353.1" r="2.65" fill="#3a914b"/><circle cx="1883.7" cy="2355.7" r="2.65" fill="#3a914b"/><circle cx="1888.1" cy="2357.7" r="2.65" fill="#3a914b"/><circle cx="1891.8" cy="2359.8" r="2.65" fill="#3a914b"/><circle cx="1883.7" cy="2360.8" r="2.65" fill="#3a914b"/><circle cx="1888.1" cy="2363.2" r="2.65" fill="#3a914b"/><circle cx="1891.8" cy="2364.8" r="2.65" fill="#3a914b"/><circle cx="1888.1" cy="2366.8" r="2.65" fill="#3a914b"/><circle cx="1891.8" cy="2368.9" r="2.65" fill="#3a914b"/><circle cx="1883.7" cy="2377.0" r="2.65" fill="#3a914b"/><circle cx="1888.1" cy="2374.5" r="2.65" fill="#3a914b"/><circle cx="1894.2" cy="2379.0" r="2.65" fill="#3a914b"/><circle cx="1888.1" cy="2382.0" r="2.65" fill="#3a914b"/><circle cx="1891.8" cy="2383.0" r="2.65" fill="#3a914b"/><circle cx="1883.7" cy="2389.1" r="2.65" fill="#3a914b"/><circle cx="1888.1" cy="2386.1" r="2.65" fill="#3a914b"/><circle cx="1894.2" cy="2381.0" r="2.65" fill="#3a914b"/><circle cx="1889.8" cy="2395.2" r="2.65" fill="#3a914b"/><circle cx="1885.7" cy="2399.3" r="2.65" fill="#3a914b"/><circle cx="1888.1" cy="2412.4" r="2.65" fill="#3a914b"/><circle cx="1888.1" cy="2417.5" r="2.65" fill="#3a914b"/><circle cx="1888.1" cy="2428.6" r="2.65" fill="#3a914b"/><circle cx="1885.7" cy="2431.3" r="2.65" fill="#3a914b"/><circle cx="1889.8" cy="2433.7" r="2.65" fill="#3a914b"/><circle cx="1883.7" cy="2437.7" r="2.65" fill="#3a914b"/><circle cx="1889.8" cy="2440.8" r="2.65" fill="#3a914b"/><circle cx="1885.7" cy="2444.2" r="2.65" fill="#3a914b"/><circle cx="1888.1" cy="2453.9" r="2.65" fill="#3a914b"/><circle cx="1888.1" cy="2479.3" r="2.65" fill="#3a914b"/><circle cx="1888.1" cy="2490.4" r="2.65" fill="#3a914b"/><circle cx="1879.6" cy="2503.0" r="2.65" fill="#3a914b"/><circle cx="1889.8" cy="2503.6" r="2.65" fill="#3a914b"/><circle cx="1894.2" cy="2503.0" r="2.65" fill="#3a914b"/><circle cx="1876.6" cy="2508.6" r="2.65" fill="#3a914b"/><circle cx="1883.7" cy="2509.6" r="2.65" fill="#3a914b"/><circle cx="1891.8" cy="2508.6" r="2.65" fill="#3a914b"/><circle cx="1897.9" cy="2510.2" r="2.65" fill="#3a914b"/><circle cx="1879.6" cy="2513.7" r="2.65" fill="#3a914b"/><circle cx="1886.7" cy="2514.3" r="2.65" fill="#3a914b"/><circle cx="1894.2" cy="2514.7" r="2.65" fill="#3a914b"/><circle cx="1899.9" cy="2512.3" r="2.65" fill="#3a914b"/><circle cx="1875.6" cy="2518.8" r="2.65" fill="#3a914b"/><circle cx="1883.7" cy="2519.8" r="2.65" fill="#3a914b"/><circle cx="1891.8" cy="2519.2" r="2.65" fill="#3a914b"/><circle cx="1896.9" cy="2516.3" r="2.65" fill="#3a914b"/><circle cx="1879.6" cy="2525.8" r="2.65" fill="#3a914b"/><circle cx="1889.8" cy="2522.8" r="2.65" fill="#3a914b"/><circle cx="1894.2" cy="2526.5" r="2.65" fill="#3a914b"/><circle cx="1883.7" cy="2530.9" r="2.65" fill="#3a914b"/><circle cx="1891.8" cy="2530.9" r="2.65" fill="#3a914b"/><circle cx="1877.6" cy="2535.0" r="2.65" fill="#3a914b"/><circle cx="1883.7" cy="2536.0" r="2.65" fill="#3a914b"/><circle cx="1891.8" cy="2537.0" r="2.65" fill="#3a914b"/><circle cx="1899.9" cy="2538.0" r="2.65" fill="#3a914b"/><circle cx="1875.6" cy="2542.0" r="2.65" fill="#3a914b"/><circle cx="1881.7" cy="2544.1" r="2.65" fill="#3a914b"/><circle cx="1887.7" cy="2542.0" r="2.65" fill="#3a914b"/><circle cx="1894.2" cy="2543.1" r="2.65" fill="#3a914b"/><circle cx="1899.9" cy="2541.0" r="2.65" fill="#3a914b"/><circle cx="1873.6" cy="2546.7" r="2.65" fill="#3a914b"/><circle cx="1879.6" cy="2549.5" r="2.65" fill="#3a914b"/><circle cx="1886.7" cy="2548.1" r="2.65" fill="#3a914b"/><circle cx="1894.2" cy="2549.1" r="2.65" fill="#3a914b"/><circle cx="1899.9" cy="2547.1" r="2.65" fill="#3a914b"/><circle cx="1876.6" cy="2553.6" r="2.65" fill="#3a914b"/><circle cx="1883.7" cy="2554.8" r="2.65" fill="#3a914b"/><circle cx="1891.8" cy="2554.8" r="2.65" fill="#3a914b"/><circle cx="1897.9" cy="2552.2" r="2.65" fill="#3a914b"/><circle cx="1876.6" cy="2558.3" r="2.65" fill="#3a914b"/><circle cx="1883.7" cy="2559.7" r="2.65" fill="#3a914b"/><circle cx="1891.8" cy="2561.3" r="2.65" fill="#3a914b"/><circle cx="1898.9" cy="2559.7" r="2.65" fill="#3a914b"/><circle cx="1879.6" cy="2563.3" r="2.65" fill="#3a914b"/><circle cx="1886.7" cy="2564.3" r="2.65" fill="#3a914b"/><circle cx="1894.2" cy="2565.3" r="2.65" fill="#3a914b"/><circle cx="1879.6" cy="2569.4" r="2.65" fill="#3a914b"/><circle cx="1886.7" cy="2571.4" r="2.65" fill="#3a914b"/><circle cx="1894.2" cy="2569.4" r="2.65" fill="#3a914b"/><circle cx="1879.6" cy="2575.5" r="2.65" fill="#3a914b"/><circle cx="1886.7" cy="2576.5" r="2.65" fill="#3a914b"/><circle cx="1896.9" cy="2575.9" r="2.65" fill="#3a914b"/><circle cx="1883.7" cy="2580.5" r="2.65" fill="#3a914b"/><circle cx="1889.8" cy="2579.5" r="2.65" fill="#3a914b"/><circle cx="1879.6" cy="2585.6" r="2.65" fill="#3a914b"/><circle cx="1886.7" cy="2586.0" r="2.65" fill="#3a914b"/><circle cx="1894.2" cy="2584.6" r="2.65" fill="#3a914b"/><circle cx="1899.9" cy="2585.6" r="2.65" fill="#3a914b"/><circle cx="1883.7" cy="2590.7" r="2.65" fill="#3a914b"/><circle cx="1891.8" cy="2591.7" r="2.65" fill="#3a914b"/><circle cx="1894.2" cy="2595.7" r="2.65" fill="#3a914b"/><circle cx="1864.6" cy="2601.8" r="2.65" fill="#3a914b"/><circle cx="1870.5" cy="2600.8" r="2.65" fill="#3a914b"/><circle cx="1876.6" cy="2598.2" r="2.65" fill="#3a914b"/><circle cx="1881.7" cy="2601.8" r="2.65" fill="#3a914b"/><circle cx="1885.3" cy="2598.8" r="2.65" fill="#3a914b"/><circle cx="1889.8" cy="2601.8" r="2.65" fill="#3a914b"/><circle cx="1894.2" cy="2599.8" r="2.65" fill="#3a914b"/><circle cx="1899.9" cy="2601.8" r="2.65" fill="#3a914b"/><circle cx="1906.0" cy="2599.8" r="2.65" fill="#3a914b"/><circle cx="1912.0" cy="2601.4" r="2.65" fill="#3a914b"/><circle cx="1873.6" cy="2603.8" r="2.65" fill="#3a914b"/><circle cx="1879.6" cy="2605.4" r="2.65" fill="#3a914b"/><circle cx="1891.8" cy="2605.9" r="2.65" fill="#3a914b"/><circle cx="1897.5" cy="2604.8" r="2.65" fill="#3a914b"/><circle cx="1888.7" cy="2608.9" r="2.65" fill="#3a914b"/><circle cx="1867.5" cy="2603.4" r="2.65" fill="#3a914b"/><circle cx="1887.9" cy="2243.5" r="2.65" fill="#3a914b"/>
<circle cx="1966.3" cy="2357.1" r="2.65" fill="#3a914b"/><circle cx="1961.7" cy="2379.4" r="2.65" fill="#3a914b"/><circle cx="1971.4" cy="2380.0" r="2.65" fill="#3a914b"/><circle cx="1961.7" cy="2387.5" r="2.65" fill="#3a914b"/><circle cx="1971.4" cy="2389.5" r="2.65" fill="#3a914b"/><circle cx="1961.7" cy="2396.8" r="2.65" fill="#3a914b"/><circle cx="1971.4" cy="2396.2" r="2.65" fill="#3a914b"/><circle cx="1966.3" cy="2404.3" r="2.65" fill="#3a914b"/><circle cx="1961.7" cy="2411.0" r="2.65" fill="#3a914b"/><circle cx="1971.4" cy="2415.5" r="2.65" fill="#3a914b"/><circle cx="1966.3" cy="2435.3" r="2.65" fill="#3a914b"/><circle cx="1966.3" cy="2441.8" r="2.65" fill="#3a914b"/><circle cx="1961.7" cy="2449.9" r="2.65" fill="#3a914b"/><circle cx="1971.4" cy="2448.3" r="2.65" fill="#3a914b"/><circle cx="1966.3" cy="2459.0" r="2.65" fill="#3a914b"/><circle cx="1980.9" cy="2471.2" r="2.65" fill="#3a914b"/><circle cx="1961.7" cy="2475.2" r="2.65" fill="#3a914b"/><circle cx="1971.4" cy="2475.8" r="2.65" fill="#3a914b"/><circle cx="1966.3" cy="2485.9" r="2.65" fill="#3a914b"/><circle cx="1952.6" cy="2494.9" r="2.65" fill="#3a914b"/><circle cx="1943.4" cy="2499.5" r="2.65" fill="#3a914b"/><circle cx="1952.6" cy="2503.6" r="2.65" fill="#3a914b"/><circle cx="1961.7" cy="2502.6" r="2.65" fill="#3a914b"/><circle cx="1971.4" cy="2498.5" r="2.65" fill="#3a914b"/><circle cx="1971.4" cy="2502.1" r="2.65" fill="#3a914b"/><circle cx="1980.9" cy="2499.5" r="2.65" fill="#3a914b"/><circle cx="1990.4" cy="2497.5" r="2.65" fill="#3a914b"/><circle cx="1980.9" cy="2505.6" r="2.65" fill="#3a914b"/><circle cx="1966.3" cy="2512.3" r="2.65" fill="#3a914b"/><circle cx="1961.7" cy="2522.8" r="2.65" fill="#3a914b"/><circle cx="1952.6" cy="2527.3" r="2.65" fill="#3a914b"/><circle cx="1971.4" cy="2525.8" r="2.65" fill="#3a914b"/><circle cx="1980.9" cy="2525.8" r="2.65" fill="#3a914b"/><circle cx="1952.6" cy="2531.9" r="2.65" fill="#3a914b"/><circle cx="1961.7" cy="2529.9" r="2.65" fill="#3a914b"/><circle cx="1966.3" cy="2533.9" r="2.65" fill="#3a914b"/><circle cx="1971.4" cy="2530.5" r="2.65" fill="#3a914b"/><circle cx="1961.7" cy="2536.0" r="2.65" fill="#3a914b"/><circle cx="1971.4" cy="2536.6" r="2.65" fill="#3a914b"/><circle cx="1980.9" cy="2539.0" r="2.65" fill="#3a914b"/><circle cx="1961.7" cy="2543.1" r="2.65" fill="#3a914b"/><circle cx="1971.4" cy="2543.1" r="2.65" fill="#3a914b"/><circle cx="1961.7" cy="2549.1" r="2.65" fill="#3a914b"/><circle cx="1971.4" cy="2549.1" r="2.65" fill="#3a914b"/><circle cx="1961.7" cy="2555.2" r="2.65" fill="#3a914b"/><circle cx="1971.4" cy="2559.3" r="2.65" fill="#3a914b"/><circle cx="1952.6" cy="2561.3" r="2.65" fill="#3a914b"/><circle cx="1952.6" cy="2566.4" r="2.65" fill="#3a914b"/><circle cx="1971.4" cy="2563.3" r="2.65" fill="#3a914b"/><circle cx="1980.9" cy="2564.9" r="2.65" fill="#3a914b"/><circle cx="1990.4" cy="2564.9" r="2.65" fill="#3a914b"/><circle cx="1971.4" cy="2567.4" r="2.65" fill="#3a914b"/><circle cx="1943.4" cy="2575.5" r="2.65" fill="#3a914b"/><circle cx="1961.7" cy="2575.9" r="2.65" fill="#3a914b"/><circle cx="1971.4" cy="2575.9" r="2.65" fill="#3a914b"/><circle cx="1980.9" cy="2577.5" r="2.65" fill="#3a914b"/><circle cx="1990.4" cy="2577.1" r="2.65" fill="#3a914b"/><circle cx="1952.6" cy="2584.6" r="2.65" fill="#3a914b"/><circle cx="1961.7" cy="2583.2" r="2.65" fill="#3a914b"/><circle cx="1971.4" cy="2581.5" r="2.65" fill="#3a914b"/><circle cx="1980.9" cy="2579.9" r="2.65" fill="#3a914b"/><circle cx="1990.4" cy="2582.6" r="2.65" fill="#3a914b"/><circle cx="1961.7" cy="2587.6" r="2.65" fill="#3a914b"/><circle cx="1971.4" cy="2587.6" r="2.65" fill="#3a914b"/><circle cx="1980.9" cy="2585.6" r="2.65" fill="#3a914b"/><circle cx="1990.4" cy="2587.6" r="2.65" fill="#3a914b"/><circle cx="1943.4" cy="2593.7" r="2.65" fill="#3a914b"/><circle cx="1952.6" cy="2592.7" r="2.65" fill="#3a914b"/><circle cx="1961.7" cy="2593.3" r="2.65" fill="#3a914b"/><circle cx="1971.4" cy="2591.7" r="2.65" fill="#3a914b"/><circle cx="1980.9" cy="2593.7" r="2.65" fill="#3a914b"/><circle cx="1990.4" cy="2592.1" r="2.65" fill="#3a914b"/><circle cx="1943.4" cy="2600.2" r="2.65" fill="#3a914b"/><circle cx="1952.6" cy="2601.8" r="2.65" fill="#3a914b"/><circle cx="1961.7" cy="2597.8" r="2.65" fill="#3a914b"/><circle cx="1971.4" cy="2603.8" r="2.65" fill="#3a914b"/><circle cx="1980.9" cy="2599.4" r="2.65" fill="#3a914b"/><circle cx="1990.4" cy="2597.8" r="2.65" fill="#3a914b"/><circle cx="1943.4" cy="2605.9" r="2.65" fill="#3a914b"/><circle cx="1961.7" cy="2604.8" r="2.65" fill="#3a914b"/><circle cx="1980.9" cy="2606.3" r="2.65" fill="#3a914b"/><circle cx="1990.4" cy="2603.8" r="2.65" fill="#3a914b"/>
<circle cx="2044.7" cy="2320.3" r="2.65" fill="#3a914b"/><circle cx="2044.7" cy="2325.3" r="2.65" fill="#3a914b"/><circle cx="2044.7" cy="2330.4" r="2.65" fill="#3a914b"/><circle cx="2044.7" cy="2338.1" r="2.65" fill="#3a914b"/><circle cx="2038.6" cy="2344.6" r="2.65" fill="#3a914b"/><circle cx="2044.7" cy="2342.5" r="2.65" fill="#3a914b"/><circle cx="2051.8" cy="2345.6" r="2.65" fill="#3a914b"/><circle cx="2041.7" cy="2350.6" r="2.65" fill="#3a914b"/><circle cx="2048.8" cy="2352.3" r="2.65" fill="#3a914b"/><circle cx="2044.7" cy="2368.5" r="2.65" fill="#3a914b"/><circle cx="2048.8" cy="2379.0" r="2.65" fill="#3a914b"/><circle cx="2041.7" cy="2383.5" r="2.65" fill="#3a914b"/><circle cx="2048.8" cy="2387.1" r="2.65" fill="#3a914b"/><circle cx="2034.6" cy="2392.8" r="2.65" fill="#3a914b"/><circle cx="2041.7" cy="2397.2" r="2.65" fill="#3a914b"/><circle cx="2055.9" cy="2394.2" r="2.65" fill="#3a914b"/><circle cx="2034.6" cy="2403.7" r="2.65" fill="#3a914b"/><circle cx="2041.7" cy="2405.3" r="2.65" fill="#3a914b"/><circle cx="2048.8" cy="2403.3" r="2.65" fill="#3a914b"/><circle cx="2055.9" cy="2406.3" r="2.65" fill="#3a914b"/><circle cx="2048.8" cy="2409.0" r="2.65" fill="#3a914b"/><circle cx="2044.7" cy="2436.1" r="2.65" fill="#3a914b"/><circle cx="2044.7" cy="2444.2" r="2.65" fill="#3a914b"/><circle cx="2044.7" cy="2461.0" r="2.65" fill="#3a914b"/><circle cx="2044.7" cy="2469.7" r="2.65" fill="#3a914b"/><circle cx="2044.7" cy="2477.2" r="2.65" fill="#3a914b"/><circle cx="2041.7" cy="2485.3" r="2.65" fill="#3a914b"/><circle cx="2048.8" cy="2483.9" r="2.65" fill="#3a914b"/><circle cx="2055.9" cy="2485.3" r="2.65" fill="#3a914b"/><circle cx="2048.8" cy="2490.0" r="2.65" fill="#3a914b"/><circle cx="2034.6" cy="2501.5" r="2.65" fill="#3a914b"/><circle cx="2041.7" cy="2502.1" r="2.65" fill="#3a914b"/><circle cx="2048.8" cy="2499.5" r="2.65" fill="#3a914b"/><circle cx="2055.9" cy="2498.9" r="2.65" fill="#3a914b"/><circle cx="2041.7" cy="2508.2" r="2.65" fill="#3a914b"/><circle cx="2048.8" cy="2505.6" r="2.65" fill="#3a914b"/><circle cx="2041.7" cy="2512.7" r="2.65" fill="#3a914b"/><circle cx="2048.8" cy="2512.3" r="2.65" fill="#3a914b"/><circle cx="2055.9" cy="2512.3" r="2.65" fill="#3a914b"/><circle cx="2041.7" cy="2517.1" r="2.65" fill="#3a914b"/><circle cx="2048.8" cy="2518.4" r="2.65" fill="#3a914b"/><circle cx="2041.7" cy="2523.8" r="2.65" fill="#3a914b"/><circle cx="2055.9" cy="2524.4" r="2.65" fill="#3a914b"/><circle cx="2034.6" cy="2528.9" r="2.65" fill="#3a914b"/><circle cx="2041.7" cy="2529.3" r="2.65" fill="#3a914b"/><circle cx="2048.8" cy="2528.5" r="2.65" fill="#3a914b"/><circle cx="2061.9" cy="2529.9" r="2.65" fill="#3a914b"/><circle cx="2028.5" cy="2535.4" r="2.65" fill="#3a914b"/><circle cx="2034.6" cy="2535.0" r="2.65" fill="#3a914b"/><circle cx="2041.7" cy="2536.6" r="2.65" fill="#3a914b"/><circle cx="2048.8" cy="2540.0" r="2.65" fill="#3a914b"/><circle cx="2055.9" cy="2535.0" r="2.65" fill="#3a914b"/><circle cx="2048.8" cy="2547.1" r="2.65" fill="#3a914b"/><circle cx="2055.9" cy="2547.1" r="2.65" fill="#3a914b"/><circle cx="2034.6" cy="2550.2" r="2.65" fill="#3a914b"/><circle cx="2041.7" cy="2551.2" r="2.65" fill="#3a914b"/><circle cx="2061.9" cy="2552.8" r="2.65" fill="#3a914b"/><circle cx="2034.6" cy="2555.6" r="2.65" fill="#3a914b"/><circle cx="2041.7" cy="2556.2" r="2.65" fill="#3a914b"/><circle cx="2048.8" cy="2556.2" r="2.65" fill="#3a914b"/><circle cx="2055.9" cy="2557.2" r="2.65" fill="#3a914b"/><circle cx="2061.9" cy="2558.3" r="2.65" fill="#3a914b"/><circle cx="2034.6" cy="2563.3" r="2.65" fill="#3a914b"/><circle cx="2048.8" cy="2562.3" r="2.65" fill="#3a914b"/><circle cx="2055.9" cy="2565.7" r="2.65" fill="#3a914b"/><circle cx="2061.9" cy="2565.3" r="2.65" fill="#3a914b"/><circle cx="2028.5" cy="2571.4" r="2.65" fill="#3a914b"/><circle cx="2034.6" cy="2569.0" r="2.65" fill="#3a914b"/><circle cx="2041.7" cy="2569.4" r="2.65" fill="#3a914b"/><circle cx="2048.8" cy="2570.4" r="2.65" fill="#3a914b"/><circle cx="2055.9" cy="2569.4" r="2.65" fill="#3a914b"/><circle cx="2061.9" cy="2571.0" r="2.65" fill="#3a914b"/><circle cx="2028.5" cy="2576.5" r="2.65" fill="#3a914b"/><circle cx="2034.6" cy="2573.9" r="2.65" fill="#3a914b"/><circle cx="2041.7" cy="2574.5" r="2.65" fill="#3a914b"/><circle cx="2048.8" cy="2575.1" r="2.65" fill="#3a914b"/><circle cx="2055.9" cy="2576.5" r="2.65" fill="#3a914b"/><circle cx="2061.9" cy="2578.5" r="2.65" fill="#3a914b"/><circle cx="2034.6" cy="2581.5" r="2.65" fill="#3a914b"/><circle cx="2041.7" cy="2581.5" r="2.65" fill="#3a914b"/><circle cx="2048.8" cy="2581.1" r="2.65" fill="#3a914b"/><circle cx="2055.9" cy="2581.5" r="2.65" fill="#3a914b"/><circle cx="2041.7" cy="2587.2" r="2.65" fill="#3a914b"/><circle cx="2048.8" cy="2587.6" r="2.65" fill="#3a914b"/><circle cx="2055.9" cy="2587.2" r="2.65" fill="#3a914b"/><circle cx="2034.6" cy="2588.6" r="2.65" fill="#3a914b"/><circle cx="2028.5" cy="2593.7" r="2.65" fill="#3a914b"/><circle cx="2034.6" cy="2592.1" r="2.65" fill="#3a914b"/><circle cx="2041.7" cy="2594.1" r="2.65" fill="#3a914b"/><circle cx="2048.8" cy="2594.7" r="2.65" fill="#3a914b"/><circle cx="2055.9" cy="2591.7" r="2.65" fill="#3a914b"/><circle cx="2061.9" cy="2591.7" r="2.65" fill="#3a914b"/><circle cx="2028.5" cy="2598.8" r="2.65" fill="#3a914b"/><circle cx="2034.6" cy="2596.1" r="2.65" fill="#3a914b"/><circle cx="2041.7" cy="2600.8" r="2.65" fill="#3a914b"/><circle cx="2048.8" cy="2599.8" r="2.65" fill="#3a914b"/><circle cx="2055.9" cy="2599.4" r="2.65" fill="#3a914b"/><circle cx="2061.9" cy="2597.8" r="2.65" fill="#3a914b"/><circle cx="2021.4" cy="2602.8" r="2.65" fill="#3a914b"/><circle cx="2028.5" cy="2604.8" r="2.65" fill="#3a914b"/><circle cx="2034.6" cy="2602.8" r="2.65" fill="#3a914b"/><circle cx="2041.7" cy="2605.9" r="2.65" fill="#3a914b"/><circle cx="2048.8" cy="2603.8" r="2.65" fill="#3a914b"/><circle cx="2055.9" cy="2602.8" r="2.65" fill="#3a914b"/><circle cx="2061.9" cy="2604.8" r="2.65" fill="#3a914b"/><circle cx="2028.5" cy="2606.9" r="2.65" fill="#3a914b"/><circle cx="2041.7" cy="2606.9" r="2.65" fill="#3a914b"/><circle cx="2055.9" cy="2607.9" r="2.65" fill="#3a914b"/>
</svg></body></html>
